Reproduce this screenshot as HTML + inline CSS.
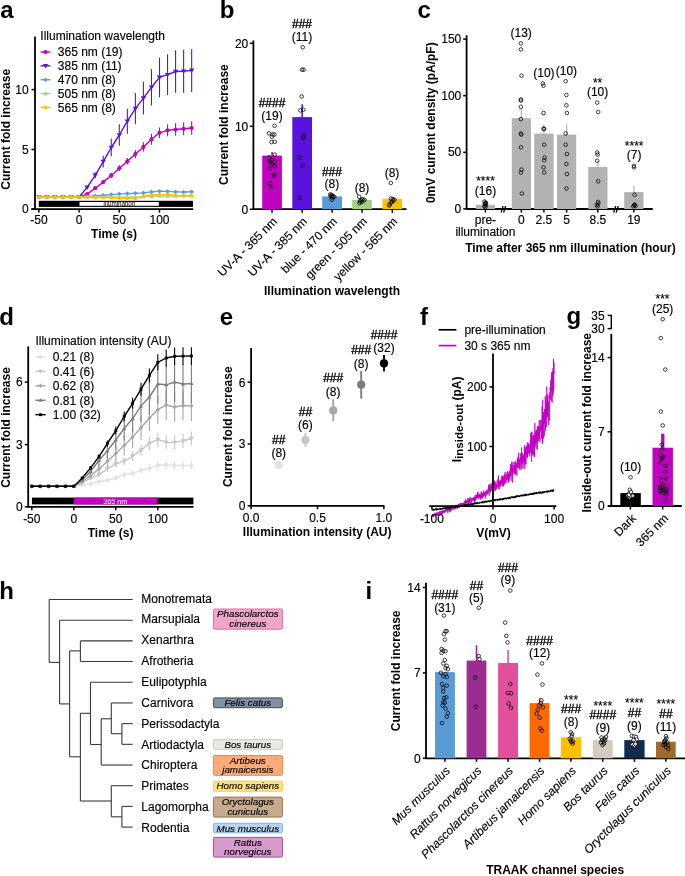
<!DOCTYPE html>
<html><head><meta charset="utf-8"><style>
html,body{margin:0;padding:0;background:#fff;}
svg{display:block;will-change:transform;font-family:"Liberation Sans", sans-serif;}
</style></head><body>
<svg width="685" height="876" viewBox="0 0 685 876">
<rect width="685" height="876" fill="#fff"/>
<text x="0.20" y="17.60" font-size="24" font-weight="bold">a</text>
<rect x="38.80" y="200.80" width="154.20" height="6.10" fill="#000"/>
<rect x="79.50" y="202.00" width="79.30" height="3.80" fill="#fff"/>
<text x="119.30" y="205.80" font-size="6.3" text-anchor="middle">Illumination</text>
<line x1="87.14" y1="193.30" x2="87.14" y2="194.90" stroke="#C200C2" stroke-width="1.1"/>
<line x1="95.18" y1="187.00" x2="95.18" y2="189.40" stroke="#C200C2" stroke-width="1.1"/>
<line x1="103.22" y1="180.30" x2="103.22" y2="183.90" stroke="#C200C2" stroke-width="1.1"/>
<line x1="111.26" y1="172.90" x2="111.26" y2="177.90" stroke="#C200C2" stroke-width="1.1"/>
<line x1="119.30" y1="165.30" x2="119.30" y2="171.30" stroke="#C200C2" stroke-width="1.1"/>
<line x1="127.34" y1="158.10" x2="127.34" y2="164.50" stroke="#C200C2" stroke-width="1.1"/>
<line x1="135.38" y1="150.10" x2="135.38" y2="158.10" stroke="#C200C2" stroke-width="1.1"/>
<line x1="143.42" y1="142.30" x2="143.42" y2="151.50" stroke="#C200C2" stroke-width="1.1"/>
<line x1="151.46" y1="133.80" x2="151.46" y2="144.80" stroke="#C200C2" stroke-width="1.1"/>
<line x1="159.50" y1="127.50" x2="159.50" y2="138.10" stroke="#C200C2" stroke-width="1.1"/>
<line x1="167.54" y1="124.30" x2="167.54" y2="136.30" stroke="#C200C2" stroke-width="1.1"/>
<line x1="175.58" y1="123.20" x2="175.58" y2="135.80" stroke="#C200C2" stroke-width="1.1"/>
<line x1="183.62" y1="122.30" x2="183.62" y2="135.30" stroke="#C200C2" stroke-width="1.1"/>
<line x1="191.66" y1="121.30" x2="191.66" y2="134.70" stroke="#C200C2" stroke-width="1.1"/>
<polyline points="38.90,197.00 46.94,197.00 54.98,197.00 63.02,197.00 71.06,197.00 79.10,197.00 87.14,194.10 95.18,188.20 103.22,182.10 111.26,175.40 119.30,168.30 127.34,161.30 135.38,154.10 143.42,146.90 151.46,139.30 159.50,132.80 167.54,130.30 175.58,129.50 183.62,128.80 191.66,128.00" fill="none" stroke="#C200C2" stroke-width="1.4" stroke-linejoin="round"/>
<circle cx="38.90" cy="197.00" r="2.1" fill="#C200C2"/>
<circle cx="46.94" cy="197.00" r="2.1" fill="#C200C2"/>
<circle cx="54.98" cy="197.00" r="2.1" fill="#C200C2"/>
<circle cx="63.02" cy="197.00" r="2.1" fill="#C200C2"/>
<circle cx="71.06" cy="197.00" r="2.1" fill="#C200C2"/>
<circle cx="79.10" cy="197.00" r="2.1" fill="#C200C2"/>
<circle cx="87.14" cy="194.10" r="2.1" fill="#C200C2"/>
<circle cx="95.18" cy="188.20" r="2.1" fill="#C200C2"/>
<circle cx="103.22" cy="182.10" r="2.1" fill="#C200C2"/>
<circle cx="111.26" cy="175.40" r="2.1" fill="#C200C2"/>
<circle cx="119.30" cy="168.30" r="2.1" fill="#C200C2"/>
<circle cx="127.34" cy="161.30" r="2.1" fill="#C200C2"/>
<circle cx="135.38" cy="154.10" r="2.1" fill="#C200C2"/>
<circle cx="143.42" cy="146.90" r="2.1" fill="#C200C2"/>
<circle cx="151.46" cy="139.30" r="2.1" fill="#C200C2"/>
<circle cx="159.50" cy="132.80" r="2.1" fill="#C200C2"/>
<circle cx="167.54" cy="130.30" r="2.1" fill="#C200C2"/>
<circle cx="175.58" cy="129.50" r="2.1" fill="#C200C2"/>
<circle cx="183.62" cy="128.80" r="2.1" fill="#C200C2"/>
<circle cx="191.66" cy="128.00" r="2.1" fill="#C200C2"/>
<line x1="87.14" y1="185.90" x2="87.14" y2="188.90" stroke="#5A12DE" stroke-width="1.1"/>
<line x1="95.18" y1="172.30" x2="95.18" y2="178.30" stroke="#5A12DE" stroke-width="1.1"/>
<line x1="103.22" y1="155.80" x2="103.22" y2="167.40" stroke="#5A12DE" stroke-width="1.1"/>
<line x1="111.26" y1="138.80" x2="111.26" y2="156.20" stroke="#5A12DE" stroke-width="1.1"/>
<line x1="119.30" y1="124.30" x2="119.30" y2="145.70" stroke="#5A12DE" stroke-width="1.1"/>
<line x1="127.34" y1="108.70" x2="127.34" y2="133.70" stroke="#5A12DE" stroke-width="1.1"/>
<line x1="135.38" y1="92.90" x2="135.38" y2="124.30" stroke="#5A12DE" stroke-width="1.1"/>
<line x1="143.42" y1="81.70" x2="143.42" y2="114.50" stroke="#5A12DE" stroke-width="1.1"/>
<line x1="151.46" y1="69.10" x2="151.46" y2="105.50" stroke="#5A12DE" stroke-width="1.1"/>
<line x1="159.50" y1="57.50" x2="159.50" y2="97.30" stroke="#5A12DE" stroke-width="1.1"/>
<line x1="167.54" y1="54.30" x2="167.54" y2="95.10" stroke="#5A12DE" stroke-width="1.1"/>
<line x1="175.58" y1="50.20" x2="175.58" y2="92.80" stroke="#5A12DE" stroke-width="1.1"/>
<line x1="183.62" y1="49.80" x2="183.62" y2="92.80" stroke="#5A12DE" stroke-width="1.1"/>
<line x1="191.66" y1="48.90" x2="191.66" y2="91.90" stroke="#5A12DE" stroke-width="1.1"/>
<polyline points="38.90,197.00 46.94,197.00 54.98,197.00 63.02,197.00 71.06,197.00 79.10,197.00 87.14,187.40 95.18,175.30 103.22,161.60 111.26,147.50 119.30,135.00 127.34,121.20 135.38,108.60 143.42,98.10 151.46,87.30 159.50,77.40 167.54,74.70 175.58,71.50 183.62,71.30 191.66,70.40" fill="none" stroke="#5A12DE" stroke-width="1.4" stroke-linejoin="round"/>
<path d="M36.20,195.20 L41.60,195.20 L38.90,199.50Z" fill="#5A12DE"/>
<path d="M44.24,195.20 L49.64,195.20 L46.94,199.50Z" fill="#5A12DE"/>
<path d="M52.28,195.20 L57.68,195.20 L54.98,199.50Z" fill="#5A12DE"/>
<path d="M60.32,195.20 L65.72,195.20 L63.02,199.50Z" fill="#5A12DE"/>
<path d="M68.36,195.20 L73.76,195.20 L71.06,199.50Z" fill="#5A12DE"/>
<path d="M76.40,195.20 L81.80,195.20 L79.10,199.50Z" fill="#5A12DE"/>
<path d="M84.44,185.60 L89.84,185.60 L87.14,189.90Z" fill="#5A12DE"/>
<path d="M92.48,173.50 L97.88,173.50 L95.18,177.80Z" fill="#5A12DE"/>
<path d="M100.52,159.80 L105.92,159.80 L103.22,164.10Z" fill="#5A12DE"/>
<path d="M108.56,145.70 L113.96,145.70 L111.26,150.00Z" fill="#5A12DE"/>
<path d="M116.60,133.20 L122.00,133.20 L119.30,137.50Z" fill="#5A12DE"/>
<path d="M124.64,119.40 L130.04,119.40 L127.34,123.70Z" fill="#5A12DE"/>
<path d="M132.68,106.80 L138.08,106.80 L135.38,111.10Z" fill="#5A12DE"/>
<path d="M140.72,96.30 L146.12,96.30 L143.42,100.60Z" fill="#5A12DE"/>
<path d="M148.76,85.50 L154.16,85.50 L151.46,89.80Z" fill="#5A12DE"/>
<path d="M156.80,75.60 L162.20,75.60 L159.50,79.90Z" fill="#5A12DE"/>
<path d="M164.84,72.90 L170.24,72.90 L167.54,77.20Z" fill="#5A12DE"/>
<path d="M172.88,69.70 L178.28,69.70 L175.58,74.00Z" fill="#5A12DE"/>
<path d="M180.92,69.50 L186.32,69.50 L183.62,73.80Z" fill="#5A12DE"/>
<path d="M188.96,68.60 L194.36,68.60 L191.66,72.90Z" fill="#5A12DE"/>
<polyline points="38.90,197.00 46.94,197.00 54.98,197.00 63.02,197.00 71.06,197.00 79.10,197.00 87.14,196.50 95.18,195.90 103.22,195.20 111.26,194.60 119.30,193.90 127.34,193.60 135.38,193.30 143.42,192.90 151.46,191.90 159.50,191.20 167.54,191.40 175.58,191.90 183.62,192.00 191.66,191.80" fill="none" stroke="#5B9BD5" stroke-width="1.4" stroke-linejoin="round"/>
<path d="M36.60,197.00 L38.90,194.70 L41.20,197.00 L38.90,199.30Z" fill="#5B9BD5"/>
<path d="M44.64,197.00 L46.94,194.70 L49.24,197.00 L46.94,199.30Z" fill="#5B9BD5"/>
<path d="M52.68,197.00 L54.98,194.70 L57.28,197.00 L54.98,199.30Z" fill="#5B9BD5"/>
<path d="M60.72,197.00 L63.02,194.70 L65.32,197.00 L63.02,199.30Z" fill="#5B9BD5"/>
<path d="M68.76,197.00 L71.06,194.70 L73.36,197.00 L71.06,199.30Z" fill="#5B9BD5"/>
<path d="M76.80,197.00 L79.10,194.70 L81.40,197.00 L79.10,199.30Z" fill="#5B9BD5"/>
<path d="M84.84,196.50 L87.14,194.20 L89.44,196.50 L87.14,198.80Z" fill="#5B9BD5"/>
<path d="M92.88,195.90 L95.18,193.60 L97.48,195.90 L95.18,198.20Z" fill="#5B9BD5"/>
<path d="M100.92,195.20 L103.22,192.90 L105.52,195.20 L103.22,197.50Z" fill="#5B9BD5"/>
<path d="M108.96,194.60 L111.26,192.30 L113.56,194.60 L111.26,196.90Z" fill="#5B9BD5"/>
<path d="M117.00,193.90 L119.30,191.60 L121.60,193.90 L119.30,196.20Z" fill="#5B9BD5"/>
<path d="M125.04,193.60 L127.34,191.30 L129.64,193.60 L127.34,195.90Z" fill="#5B9BD5"/>
<path d="M133.08,193.30 L135.38,191.00 L137.68,193.30 L135.38,195.60Z" fill="#5B9BD5"/>
<path d="M141.12,192.90 L143.42,190.60 L145.72,192.90 L143.42,195.20Z" fill="#5B9BD5"/>
<path d="M149.16,191.90 L151.46,189.60 L153.76,191.90 L151.46,194.20Z" fill="#5B9BD5"/>
<path d="M157.20,191.20 L159.50,188.90 L161.80,191.20 L159.50,193.50Z" fill="#5B9BD5"/>
<path d="M165.24,191.40 L167.54,189.10 L169.84,191.40 L167.54,193.70Z" fill="#5B9BD5"/>
<path d="M173.28,191.90 L175.58,189.60 L177.88,191.90 L175.58,194.20Z" fill="#5B9BD5"/>
<path d="M181.32,192.00 L183.62,189.70 L185.92,192.00 L183.62,194.30Z" fill="#5B9BD5"/>
<path d="M189.36,191.80 L191.66,189.50 L193.96,191.80 L191.66,194.10Z" fill="#5B9BD5"/>
<polyline points="38.90,197.00 46.94,197.00 54.98,197.00 63.02,197.00 71.06,197.00 79.10,197.00 87.14,197.00 95.18,197.00 103.22,197.00 111.26,197.00 119.30,197.10 127.34,197.20 135.38,197.20 143.42,196.60 151.46,196.30 159.50,196.00 167.54,196.10 175.58,196.10 183.62,196.00 191.66,196.00" fill="none" stroke="#A4CF86" stroke-width="1.4" stroke-linejoin="round"/>
<path d="M36.70,198.60 L41.10,198.60 L38.90,194.80Z" fill="#A4CF86"/>
<path d="M44.74,198.60 L49.14,198.60 L46.94,194.80Z" fill="#A4CF86"/>
<path d="M52.78,198.60 L57.18,198.60 L54.98,194.80Z" fill="#A4CF86"/>
<path d="M60.82,198.60 L65.22,198.60 L63.02,194.80Z" fill="#A4CF86"/>
<path d="M68.86,198.60 L73.26,198.60 L71.06,194.80Z" fill="#A4CF86"/>
<path d="M76.90,198.60 L81.30,198.60 L79.10,194.80Z" fill="#A4CF86"/>
<path d="M84.94,198.60 L89.34,198.60 L87.14,194.80Z" fill="#A4CF86"/>
<path d="M92.98,198.60 L97.38,198.60 L95.18,194.80Z" fill="#A4CF86"/>
<path d="M101.02,198.60 L105.42,198.60 L103.22,194.80Z" fill="#A4CF86"/>
<path d="M109.06,198.60 L113.46,198.60 L111.26,194.80Z" fill="#A4CF86"/>
<path d="M117.10,198.70 L121.50,198.70 L119.30,194.90Z" fill="#A4CF86"/>
<path d="M125.14,198.80 L129.54,198.80 L127.34,195.00Z" fill="#A4CF86"/>
<path d="M133.18,198.80 L137.58,198.80 L135.38,195.00Z" fill="#A4CF86"/>
<path d="M141.22,198.20 L145.62,198.20 L143.42,194.40Z" fill="#A4CF86"/>
<path d="M149.26,197.90 L153.66,197.90 L151.46,194.10Z" fill="#A4CF86"/>
<path d="M157.30,197.60 L161.70,197.60 L159.50,193.80Z" fill="#A4CF86"/>
<path d="M165.34,197.70 L169.74,197.70 L167.54,193.90Z" fill="#A4CF86"/>
<path d="M173.38,197.70 L177.78,197.70 L175.58,193.90Z" fill="#A4CF86"/>
<path d="M181.42,197.60 L185.82,197.60 L183.62,193.80Z" fill="#A4CF86"/>
<path d="M189.46,197.60 L193.86,197.60 L191.66,193.80Z" fill="#A4CF86"/>
<polyline points="38.90,197.00 46.94,197.00 54.98,197.00 63.02,197.00 71.06,197.00 79.10,197.00 87.14,197.30 95.18,197.60 103.22,197.60 111.26,197.80 119.30,198.20 127.34,198.40 135.38,198.50 143.42,196.00 151.46,194.80 159.50,194.70 167.54,194.50 175.58,195.30 183.62,195.40 191.66,195.40" fill="none" stroke="#FFC000" stroke-width="1.4" stroke-linejoin="round"/>
<rect x="37.40" y="195.50" width="3.00" height="3.00" fill="#FFC000"/>
<rect x="45.44" y="195.50" width="3.00" height="3.00" fill="#FFC000"/>
<rect x="53.48" y="195.50" width="3.00" height="3.00" fill="#FFC000"/>
<rect x="61.52" y="195.50" width="3.00" height="3.00" fill="#FFC000"/>
<rect x="69.56" y="195.50" width="3.00" height="3.00" fill="#FFC000"/>
<rect x="77.60" y="195.50" width="3.00" height="3.00" fill="#FFC000"/>
<rect x="85.64" y="195.80" width="3.00" height="3.00" fill="#FFC000"/>
<rect x="93.68" y="196.10" width="3.00" height="3.00" fill="#FFC000"/>
<rect x="101.72" y="196.10" width="3.00" height="3.00" fill="#FFC000"/>
<rect x="109.76" y="196.30" width="3.00" height="3.00" fill="#FFC000"/>
<rect x="117.80" y="196.70" width="3.00" height="3.00" fill="#FFC000"/>
<rect x="125.84" y="196.90" width="3.00" height="3.00" fill="#FFC000"/>
<rect x="133.88" y="197.00" width="3.00" height="3.00" fill="#FFC000"/>
<rect x="141.92" y="194.50" width="3.00" height="3.00" fill="#FFC000"/>
<rect x="149.96" y="193.30" width="3.00" height="3.00" fill="#FFC000"/>
<rect x="158.00" y="193.20" width="3.00" height="3.00" fill="#FFC000"/>
<rect x="166.04" y="193.00" width="3.00" height="3.00" fill="#FFC000"/>
<rect x="174.08" y="193.80" width="3.00" height="3.00" fill="#FFC000"/>
<rect x="182.12" y="193.90" width="3.00" height="3.00" fill="#FFC000"/>
<rect x="190.16" y="193.90" width="3.00" height="3.00" fill="#FFC000"/>
<line x1="35.00" y1="36.50" x2="35.00" y2="209.80" stroke="#000" stroke-width="1.8"/>
<line x1="31.30" y1="209.10" x2="193.20" y2="209.10" stroke="#000" stroke-width="1.8"/>
<line x1="31.50" y1="209.10" x2="35.00" y2="209.10" stroke="#000" stroke-width="1.5"/>
<text x="28.60" y="213.40" font-size="12" text-anchor="end" stroke="#000" stroke-width="0.15">0</text>
<line x1="31.50" y1="149.50" x2="35.00" y2="149.50" stroke="#000" stroke-width="1.5"/>
<text x="28.60" y="153.80" font-size="12" text-anchor="end" stroke="#000" stroke-width="0.15">5</text>
<line x1="31.50" y1="89.60" x2="35.00" y2="89.60" stroke="#000" stroke-width="1.5"/>
<text x="28.60" y="93.90" font-size="12" text-anchor="end" stroke="#000" stroke-width="0.15">10</text>
<line x1="38.90" y1="209.10" x2="38.90" y2="212.60" stroke="#000" stroke-width="1.5"/>
<text x="38.90" y="224.00" font-size="12" text-anchor="middle" stroke="#000" stroke-width="0.15">-50</text>
<line x1="79.10" y1="209.10" x2="79.10" y2="212.60" stroke="#000" stroke-width="1.5"/>
<text x="79.10" y="224.00" font-size="12" text-anchor="middle" stroke="#000" stroke-width="0.15">0</text>
<line x1="119.30" y1="209.10" x2="119.30" y2="212.60" stroke="#000" stroke-width="1.5"/>
<text x="119.30" y="224.00" font-size="12" text-anchor="middle" stroke="#000" stroke-width="0.15">50</text>
<line x1="159.50" y1="209.10" x2="159.50" y2="212.60" stroke="#000" stroke-width="1.5"/>
<text x="159.50" y="224.00" font-size="12" text-anchor="middle" stroke="#000" stroke-width="0.15">100</text>
<text x="114.00" y="238.00" font-size="12" text-anchor="middle" font-weight="bold">Time (s)</text>
<text x="10.00" y="129.30" font-size="12" text-anchor="middle" font-weight="bold" transform="rotate(-90 10.00 129.30)">Current fold increase</text>
<text x="40.30" y="39.80" font-size="12" stroke="#000" stroke-width="0.15">Illumination wavelength</text>
<line x1="40.60" y1="52.00" x2="50.40" y2="52.00" stroke="#C200C2" stroke-width="1.4"/>
<circle cx="45.50" cy="52.00" r="2.1" fill="#C200C2"/>
<text x="57.80" y="56.30" font-size="12" stroke="#000" stroke-width="0.15">365 nm (19)</text>
<line x1="40.60" y1="65.85" x2="50.40" y2="65.85" stroke="#5A12DE" stroke-width="1.4"/>
<path d="M42.80,64.05 L48.20,64.05 L45.50,68.35Z" fill="#5A12DE"/>
<text x="57.80" y="70.15" font-size="12" stroke="#000" stroke-width="0.15">385 nm (11)</text>
<line x1="40.60" y1="79.70" x2="50.40" y2="79.70" stroke="#5B9BD5" stroke-width="1.4"/>
<path d="M43.20,79.70 L45.50,77.40 L47.80,79.70 L45.50,82.00Z" fill="#5B9BD5"/>
<text x="57.80" y="84.00" font-size="12" stroke="#000" stroke-width="0.15">470 nm (8)</text>
<line x1="40.60" y1="93.55" x2="50.40" y2="93.55" stroke="#A4CF86" stroke-width="1.4"/>
<path d="M43.30,95.15 L47.70,95.15 L45.50,91.35Z" fill="#A4CF86"/>
<text x="57.80" y="97.85" font-size="12" stroke="#000" stroke-width="0.15">505 nm (8)</text>
<line x1="40.60" y1="107.40" x2="50.40" y2="107.40" stroke="#FFC000" stroke-width="1.4"/>
<rect x="44.00" y="105.90" width="3.00" height="3.00" fill="#FFC000"/>
<text x="57.80" y="111.70" font-size="12" stroke="#000" stroke-width="0.15">565 nm (8)</text>
<text x="219.80" y="17.50" font-size="24" font-weight="bold">b</text>
<line x1="253.40" y1="40.50" x2="253.40" y2="209.90" stroke="#000" stroke-width="1.8"/>
<line x1="252.70" y1="209.20" x2="406.60" y2="209.20" stroke="#000" stroke-width="1.8"/>
<line x1="249.80" y1="209.30" x2="253.40" y2="209.30" stroke="#000" stroke-width="1.5"/>
<text x="248.30" y="213.60" font-size="12" text-anchor="end" stroke="#000" stroke-width="0.15">0</text>
<line x1="249.80" y1="126.30" x2="253.40" y2="126.30" stroke="#000" stroke-width="1.5"/>
<text x="248.30" y="130.60" font-size="12" text-anchor="end" stroke="#000" stroke-width="0.15">10</text>
<line x1="249.80" y1="43.30" x2="253.40" y2="43.30" stroke="#000" stroke-width="1.5"/>
<text x="248.30" y="47.60" font-size="12" text-anchor="end" stroke="#000" stroke-width="0.15">20</text>
<line x1="272.05" y1="152.00" x2="272.05" y2="156.60" stroke="#C200C2" stroke-width="1.6"/>
<rect x="262.20" y="155.60" width="19.70" height="53.60" fill="#C200C2"/>
<line x1="302.15" y1="104.20" x2="302.15" y2="118.10" stroke="#5A12DE" stroke-width="1.6"/>
<rect x="292.30" y="117.10" width="19.70" height="92.10" fill="#5A12DE"/>
<rect x="322.20" y="196.40" width="19.80" height="12.80" fill="#5B9BD5"/>
<rect x="352.20" y="199.90" width="19.70" height="9.30" fill="#A4CF86"/>
<rect x="382.50" y="198.80" width="19.60" height="10.40" fill="#FFC000"/>
<circle cx="274.50" cy="125.80" r="1.8" fill="none" stroke="#000" stroke-width="0.75"/>
<circle cx="269.00" cy="133.40" r="1.8" fill="none" stroke="#000" stroke-width="0.75"/>
<circle cx="272.60" cy="134.50" r="1.8" fill="none" stroke="#000" stroke-width="0.75"/>
<circle cx="274.50" cy="134.50" r="1.8" fill="none" stroke="#000" stroke-width="0.75"/>
<circle cx="271.90" cy="136.70" r="1.8" fill="none" stroke="#000" stroke-width="0.75"/>
<circle cx="271.50" cy="142.10" r="1.8" fill="none" stroke="#000" stroke-width="0.75"/>
<circle cx="274.80" cy="141.80" r="1.8" fill="none" stroke="#000" stroke-width="0.75"/>
<circle cx="274.80" cy="154.70" r="1.8" fill="none" stroke="#000" stroke-width="0.75"/>
<circle cx="269.00" cy="157.40" r="1.8" fill="none" stroke="#000" stroke-width="0.75"/>
<circle cx="271.90" cy="160.00" r="1.8" fill="none" stroke="#000" stroke-width="0.75"/>
<circle cx="274.80" cy="162.00" r="1.8" fill="none" stroke="#000" stroke-width="0.75"/>
<circle cx="269.70" cy="161.80" r="1.8" fill="none" stroke="#000" stroke-width="0.75"/>
<circle cx="271.60" cy="163.30" r="1.8" fill="none" stroke="#000" stroke-width="0.75"/>
<circle cx="274.50" cy="166.20" r="1.8" fill="none" stroke="#000" stroke-width="0.75"/>
<circle cx="269.70" cy="168.50" r="1.8" fill="none" stroke="#000" stroke-width="0.75"/>
<circle cx="274.50" cy="174.70" r="1.8" fill="none" stroke="#000" stroke-width="0.75"/>
<circle cx="273.40" cy="175.80" r="1.8" fill="none" stroke="#000" stroke-width="0.75"/>
<circle cx="270.10" cy="183.40" r="1.8" fill="none" stroke="#000" stroke-width="0.75"/>
<circle cx="271.90" cy="187.80" r="1.8" fill="none" stroke="#000" stroke-width="0.75"/>
<circle cx="302.70" cy="47.30" r="1.8" fill="none" stroke="#000" stroke-width="0.75"/>
<circle cx="302.00" cy="69.70" r="1.8" fill="none" stroke="#000" stroke-width="0.75"/>
<circle cx="303.60" cy="69.70" r="1.8" fill="none" stroke="#000" stroke-width="0.75"/>
<circle cx="301.70" cy="96.50" r="1.8" fill="none" stroke="#000" stroke-width="0.75"/>
<circle cx="300.40" cy="110.40" r="1.8" fill="none" stroke="#000" stroke-width="0.75"/>
<circle cx="303.30" cy="109.70" r="1.8" fill="none" stroke="#000" stroke-width="0.75"/>
<circle cx="303.30" cy="135.00" r="1.8" fill="none" stroke="#000" stroke-width="0.75"/>
<circle cx="303.30" cy="137.90" r="1.8" fill="none" stroke="#000" stroke-width="0.75"/>
<circle cx="299.20" cy="157.20" r="1.8" fill="none" stroke="#000" stroke-width="0.75"/>
<circle cx="302.60" cy="165.60" r="1.8" fill="none" stroke="#000" stroke-width="0.75"/>
<circle cx="299.60" cy="197.70" r="1.8" fill="none" stroke="#000" stroke-width="0.75"/>
<circle cx="330.20" cy="194.40" r="1.8" fill="none" stroke="#000" stroke-width="0.75"/>
<circle cx="331.90" cy="195.00" r="1.8" fill="none" stroke="#000" stroke-width="0.75"/>
<circle cx="333.10" cy="196.20" r="1.8" fill="none" stroke="#000" stroke-width="0.75"/>
<circle cx="334.30" cy="196.80" r="1.8" fill="none" stroke="#000" stroke-width="0.75"/>
<circle cx="330.80" cy="196.80" r="1.8" fill="none" stroke="#000" stroke-width="0.75"/>
<circle cx="331.90" cy="199.70" r="1.8" fill="none" stroke="#000" stroke-width="0.75"/>
<circle cx="331.00" cy="195.50" r="1.8" fill="none" stroke="#000" stroke-width="0.75"/>
<circle cx="332.50" cy="197.50" r="1.8" fill="none" stroke="#000" stroke-width="0.75"/>
<circle cx="359.10" cy="196.80" r="1.8" fill="none" stroke="#000" stroke-width="0.75"/>
<circle cx="362.30" cy="199.10" r="1.8" fill="none" stroke="#000" stroke-width="0.75"/>
<circle cx="364.60" cy="199.70" r="1.8" fill="none" stroke="#000" stroke-width="0.75"/>
<circle cx="360.00" cy="201.40" r="1.8" fill="none" stroke="#000" stroke-width="0.75"/>
<circle cx="361.70" cy="202.00" r="1.8" fill="none" stroke="#000" stroke-width="0.75"/>
<circle cx="359.40" cy="203.20" r="1.8" fill="none" stroke="#000" stroke-width="0.75"/>
<circle cx="363.50" cy="200.50" r="1.8" fill="none" stroke="#000" stroke-width="0.75"/>
<circle cx="360.80" cy="200.20" r="1.8" fill="none" stroke="#000" stroke-width="0.75"/>
<circle cx="390.80" cy="182.90" r="1.8" fill="none" stroke="#000" stroke-width="0.75"/>
<circle cx="390.90" cy="198.50" r="1.8" fill="none" stroke="#000" stroke-width="0.75"/>
<circle cx="392.70" cy="199.10" r="1.8" fill="none" stroke="#000" stroke-width="0.75"/>
<circle cx="394.40" cy="199.70" r="1.8" fill="none" stroke="#000" stroke-width="0.75"/>
<circle cx="393.50" cy="200.80" r="1.8" fill="none" stroke="#000" stroke-width="0.75"/>
<circle cx="392.10" cy="201.80" r="1.8" fill="none" stroke="#000" stroke-width="0.75"/>
<circle cx="390.90" cy="202.60" r="1.8" fill="none" stroke="#000" stroke-width="0.75"/>
<circle cx="389.70" cy="204.40" r="1.8" fill="none" stroke="#000" stroke-width="0.75"/>
<circle cx="389.20" cy="205.50" r="1.8" fill="none" stroke="#000" stroke-width="0.75"/>
<text x="272.00" y="107.20" font-size="12" text-anchor="middle" stroke="#000" stroke-width="0.35">####</text>
<text x="272.00" y="119.80" font-size="12" text-anchor="middle" stroke="#000" stroke-width="0.15">(19)</text>
<text x="302.00" y="28.30" font-size="12" text-anchor="middle" stroke="#000" stroke-width="0.35">###</text>
<text x="302.00" y="41.10" font-size="12" text-anchor="middle" stroke="#000" stroke-width="0.15">(11)</text>
<text x="331.90" y="175.60" font-size="12" text-anchor="middle" stroke="#000" stroke-width="0.35">###</text>
<text x="331.90" y="188.40" font-size="12" text-anchor="middle" stroke="#000" stroke-width="0.15">(8)</text>
<text x="362.00" y="191.60" font-size="12" text-anchor="middle" stroke="#000" stroke-width="0.15">(8)</text>
<text x="392.00" y="177.30" font-size="12" text-anchor="middle" stroke="#000" stroke-width="0.15">(8)</text>
<line x1="272.05" y1="209.20" x2="272.05" y2="212.80" stroke="#000" stroke-width="1.5"/>
<text x="277.75" y="222.10" font-size="12" text-anchor="end" transform="rotate(-45 277.75 222.10)" stroke="#000" stroke-width="0.15">UV-A - 365 nm</text>
<line x1="302.15" y1="209.20" x2="302.15" y2="212.80" stroke="#000" stroke-width="1.5"/>
<text x="307.85" y="222.10" font-size="12" text-anchor="end" transform="rotate(-45 307.85 222.10)" stroke="#000" stroke-width="0.15">UV-A - 385 nm</text>
<line x1="332.10" y1="209.20" x2="332.10" y2="212.80" stroke="#000" stroke-width="1.5"/>
<text x="337.80" y="222.10" font-size="12" text-anchor="end" transform="rotate(-45 337.80 222.10)" stroke="#000" stroke-width="0.15">blue - 470 nm</text>
<line x1="362.05" y1="209.20" x2="362.05" y2="212.80" stroke="#000" stroke-width="1.5"/>
<text x="367.75" y="222.10" font-size="12" text-anchor="end" transform="rotate(-45 367.75 222.10)" stroke="#000" stroke-width="0.15">green - 505 nm</text>
<line x1="392.30" y1="209.20" x2="392.30" y2="212.80" stroke="#000" stroke-width="1.5"/>
<text x="398.00" y="222.10" font-size="12" text-anchor="end" transform="rotate(-45 398.00 222.10)" stroke="#000" stroke-width="0.15">yellow - 565 nm</text>
<text x="332.00" y="295.40" font-size="12" text-anchor="middle" font-weight="bold">Illumination wavelength</text>
<text x="228.50" y="124.60" font-size="12" text-anchor="middle" font-weight="bold" transform="rotate(-90 228.50 124.60)">Current fold increase</text>
<text x="417.40" y="17.80" font-size="24" font-weight="bold">c</text>
<line x1="466.60" y1="35.30" x2="466.60" y2="209.60" stroke="#000" stroke-width="1.8"/>
<line x1="466.00" y1="209.00" x2="652.80" y2="209.00" stroke="#000" stroke-width="1.8"/>
<line x1="463.20" y1="208.90" x2="466.60" y2="208.90" stroke="#000" stroke-width="1.5"/>
<text x="461.30" y="212.80" font-size="12" text-anchor="end" stroke="#000" stroke-width="0.15">0</text>
<line x1="463.20" y1="152.30" x2="466.60" y2="152.30" stroke="#000" stroke-width="1.5"/>
<text x="461.30" y="156.20" font-size="12" text-anchor="end" stroke="#000" stroke-width="0.15">50</text>
<line x1="463.20" y1="95.70" x2="466.60" y2="95.70" stroke="#000" stroke-width="1.5"/>
<text x="461.30" y="99.60" font-size="12" text-anchor="end" stroke="#000" stroke-width="0.15">100</text>
<line x1="463.20" y1="39.10" x2="466.60" y2="39.10" stroke="#000" stroke-width="1.5"/>
<text x="461.30" y="43.00" font-size="12" text-anchor="end" stroke="#000" stroke-width="0.15">150</text>
<rect x="475.80" y="204.80" width="19.20" height="4.20" fill="#B2B2B2"/>
<line x1="485.40" y1="209.00" x2="485.40" y2="212.60" stroke="#000" stroke-width="1.5"/>
<text x="485.40" y="224.30" font-size="12" text-anchor="middle" stroke="#000" stroke-width="0.15">pre-</text>
<line x1="521.40" y1="109.00" x2="521.40" y2="119.20" stroke="#B2B2B2" stroke-width="1.2"/>
<rect x="511.80" y="118.20" width="19.20" height="90.80" fill="#B2B2B2"/>
<line x1="521.40" y1="209.00" x2="521.40" y2="212.60" stroke="#000" stroke-width="1.5"/>
<text x="521.40" y="224.30" font-size="12" text-anchor="middle" stroke="#000" stroke-width="0.15">0</text>
<line x1="543.90" y1="124.60" x2="543.90" y2="134.60" stroke="#B2B2B2" stroke-width="1.2"/>
<rect x="534.20" y="133.60" width="19.40" height="75.40" fill="#B2B2B2"/>
<line x1="543.90" y1="209.00" x2="543.90" y2="212.60" stroke="#000" stroke-width="1.5"/>
<text x="543.90" y="224.30" font-size="12" text-anchor="middle" stroke="#000" stroke-width="0.15">2.5</text>
<line x1="566.60" y1="124.20" x2="566.60" y2="135.60" stroke="#B2B2B2" stroke-width="1.2"/>
<rect x="557.00" y="134.60" width="19.20" height="74.40" fill="#B2B2B2"/>
<line x1="566.60" y1="209.00" x2="566.60" y2="212.60" stroke="#000" stroke-width="1.5"/>
<text x="566.60" y="224.30" font-size="12" text-anchor="middle" stroke="#000" stroke-width="0.15">5</text>
<line x1="597.85" y1="160.70" x2="597.85" y2="167.90" stroke="#B2B2B2" stroke-width="1.2"/>
<rect x="588.20" y="166.90" width="19.30" height="42.10" fill="#B2B2B2"/>
<line x1="597.85" y1="209.00" x2="597.85" y2="212.60" stroke="#000" stroke-width="1.5"/>
<text x="597.85" y="224.30" font-size="12" text-anchor="middle" stroke="#000" stroke-width="0.15">8.5</text>
<line x1="633.85" y1="185.80" x2="633.85" y2="193.10" stroke="#B2B2B2" stroke-width="1.2"/>
<rect x="624.20" y="192.10" width="19.30" height="16.90" fill="#B2B2B2"/>
<line x1="633.85" y1="209.00" x2="633.85" y2="212.60" stroke="#000" stroke-width="1.5"/>
<text x="633.85" y="224.30" font-size="12" text-anchor="middle" stroke="#000" stroke-width="0.15">19</text>
<text x="485.40" y="236.40" font-size="12" text-anchor="middle" stroke="#000" stroke-width="0.15">illumination</text>
<circle cx="484.50" cy="201.50" r="1.8" fill="none" stroke="#000" stroke-width="0.75"/>
<circle cx="485.50" cy="202.50" r="1.8" fill="none" stroke="#000" stroke-width="0.75"/>
<circle cx="484.80" cy="203.80" r="1.8" fill="none" stroke="#000" stroke-width="0.75"/>
<circle cx="485.80" cy="204.50" r="1.8" fill="none" stroke="#000" stroke-width="0.75"/>
<circle cx="485.00" cy="205.50" r="1.8" fill="none" stroke="#000" stroke-width="0.75"/>
<circle cx="484.50" cy="206.50" r="1.8" fill="none" stroke="#000" stroke-width="0.75"/>
<circle cx="485.50" cy="207.20" r="1.8" fill="none" stroke="#000" stroke-width="0.75"/>
<circle cx="486.00" cy="203.20" r="1.8" fill="none" stroke="#000" stroke-width="0.75"/>
<circle cx="520.90" cy="43.40" r="1.8" fill="none" stroke="#000" stroke-width="0.75"/>
<circle cx="520.90" cy="49.40" r="1.8" fill="none" stroke="#000" stroke-width="0.75"/>
<circle cx="521.50" cy="75.70" r="1.8" fill="none" stroke="#000" stroke-width="0.75"/>
<circle cx="520.90" cy="99.50" r="1.8" fill="none" stroke="#000" stroke-width="0.75"/>
<circle cx="520.90" cy="100.60" r="1.8" fill="none" stroke="#000" stroke-width="0.75"/>
<circle cx="520.90" cy="106.80" r="1.8" fill="none" stroke="#000" stroke-width="0.75"/>
<circle cx="520.90" cy="119.10" r="1.8" fill="none" stroke="#000" stroke-width="0.75"/>
<circle cx="520.90" cy="133.50" r="1.8" fill="none" stroke="#000" stroke-width="0.75"/>
<circle cx="521.30" cy="134.60" r="1.8" fill="none" stroke="#000" stroke-width="0.75"/>
<circle cx="520.90" cy="147.30" r="1.8" fill="none" stroke="#000" stroke-width="0.75"/>
<circle cx="521.50" cy="169.60" r="1.8" fill="none" stroke="#000" stroke-width="0.75"/>
<circle cx="520.90" cy="172.50" r="1.8" fill="none" stroke="#000" stroke-width="0.75"/>
<circle cx="521.90" cy="193.60" r="1.8" fill="none" stroke="#000" stroke-width="0.75"/>
<circle cx="542.80" cy="83.40" r="1.8" fill="none" stroke="#000" stroke-width="0.75"/>
<circle cx="543.50" cy="85.70" r="1.8" fill="none" stroke="#000" stroke-width="0.75"/>
<circle cx="543.50" cy="113.00" r="1.8" fill="none" stroke="#000" stroke-width="0.75"/>
<circle cx="543.50" cy="128.60" r="1.8" fill="none" stroke="#000" stroke-width="0.75"/>
<circle cx="544.20" cy="129.10" r="1.8" fill="none" stroke="#000" stroke-width="0.75"/>
<circle cx="544.20" cy="144.70" r="1.8" fill="none" stroke="#000" stroke-width="0.75"/>
<circle cx="544.60" cy="157.60" r="1.8" fill="none" stroke="#000" stroke-width="0.75"/>
<circle cx="544.20" cy="160.30" r="1.8" fill="none" stroke="#000" stroke-width="0.75"/>
<circle cx="543.50" cy="167.40" r="1.8" fill="none" stroke="#000" stroke-width="0.75"/>
<circle cx="544.20" cy="172.50" r="1.8" fill="none" stroke="#000" stroke-width="0.75"/>
<circle cx="565.70" cy="81.20" r="1.8" fill="none" stroke="#000" stroke-width="0.75"/>
<circle cx="566.40" cy="95.00" r="1.8" fill="none" stroke="#000" stroke-width="0.75"/>
<circle cx="566.40" cy="105.30" r="1.8" fill="none" stroke="#000" stroke-width="0.75"/>
<circle cx="566.90" cy="113.00" r="1.8" fill="none" stroke="#000" stroke-width="0.75"/>
<circle cx="565.70" cy="133.50" r="1.8" fill="none" stroke="#000" stroke-width="0.75"/>
<circle cx="565.70" cy="144.70" r="1.8" fill="none" stroke="#000" stroke-width="0.75"/>
<circle cx="566.90" cy="154.00" r="1.8" fill="none" stroke="#000" stroke-width="0.75"/>
<circle cx="566.40" cy="164.00" r="1.8" fill="none" stroke="#000" stroke-width="0.75"/>
<circle cx="566.90" cy="174.00" r="1.8" fill="none" stroke="#000" stroke-width="0.75"/>
<circle cx="566.40" cy="188.50" r="1.8" fill="none" stroke="#000" stroke-width="0.75"/>
<circle cx="597.20" cy="102.60" r="1.8" fill="none" stroke="#000" stroke-width="0.75"/>
<circle cx="598.20" cy="112.00" r="1.8" fill="none" stroke="#000" stroke-width="0.75"/>
<circle cx="597.20" cy="152.50" r="1.8" fill="none" stroke="#000" stroke-width="0.75"/>
<circle cx="597.60" cy="154.60" r="1.8" fill="none" stroke="#000" stroke-width="0.75"/>
<circle cx="597.20" cy="160.70" r="1.8" fill="none" stroke="#000" stroke-width="0.75"/>
<circle cx="598.20" cy="181.30" r="1.8" fill="none" stroke="#000" stroke-width="0.75"/>
<circle cx="598.20" cy="201.90" r="1.8" fill="none" stroke="#000" stroke-width="0.75"/>
<circle cx="598.20" cy="203.50" r="1.8" fill="none" stroke="#000" stroke-width="0.75"/>
<circle cx="597.60" cy="206.40" r="1.8" fill="none" stroke="#000" stroke-width="0.75"/>
<circle cx="596.80" cy="205.00" r="1.8" fill="none" stroke="#000" stroke-width="0.75"/>
<circle cx="634.00" cy="165.90" r="1.8" fill="none" stroke="#000" stroke-width="0.75"/>
<circle cx="634.00" cy="167.30" r="1.8" fill="none" stroke="#000" stroke-width="0.75"/>
<circle cx="634.60" cy="194.70" r="1.8" fill="none" stroke="#000" stroke-width="0.75"/>
<circle cx="634.60" cy="204.50" r="1.8" fill="none" stroke="#000" stroke-width="0.75"/>
<circle cx="633.20" cy="206.40" r="1.8" fill="none" stroke="#000" stroke-width="0.75"/>
<circle cx="635.50" cy="206.00" r="1.8" fill="none" stroke="#000" stroke-width="0.75"/>
<circle cx="634.20" cy="205.20" r="1.8" fill="none" stroke="#000" stroke-width="0.75"/>
<text x="485.50" y="185.40" font-size="12" text-anchor="middle" stroke="#000" stroke-width="0.12">****</text>
<text x="485.50" y="194.90" font-size="12" text-anchor="middle" stroke="#000" stroke-width="0.15">(16)</text>
<text x="521.20" y="36.70" font-size="12" text-anchor="middle" stroke="#000" stroke-width="0.15">(13)</text>
<text x="543.90" y="77.40" font-size="12" text-anchor="middle" stroke="#000" stroke-width="0.15">(10)</text>
<text x="566.40" y="74.90" font-size="12" text-anchor="middle" stroke="#000" stroke-width="0.15">(10)</text>
<text x="597.60" y="86.60" font-size="12" text-anchor="middle" stroke="#000" stroke-width="0.12">**</text>
<text x="597.60" y="95.80" font-size="12" text-anchor="middle" stroke="#000" stroke-width="0.15">(10)</text>
<text x="634.20" y="149.60" font-size="12" text-anchor="middle" stroke="#000" stroke-width="0.12">****</text>
<text x="634.20" y="158.90" font-size="12" text-anchor="middle" stroke="#000" stroke-width="0.15">(7)</text>
<line x1="501.10" y1="212.60" x2="503.10" y2="206.00" stroke="#000" stroke-width="1.3"/>
<line x1="503.60" y1="212.60" x2="505.60" y2="206.00" stroke="#000" stroke-width="1.3"/>
<line x1="613.70" y1="212.60" x2="615.70" y2="206.00" stroke="#000" stroke-width="1.3"/>
<line x1="616.20" y1="212.60" x2="618.20" y2="206.00" stroke="#000" stroke-width="1.3"/>
<text x="570.40" y="251.60" font-size="12" text-anchor="middle" font-weight="bold">Time after 365 nm illumination (hour)</text>
<text x="435.20" y="122.70" font-size="12" text-anchor="middle" font-weight="bold" transform="rotate(-90 435.20 122.70)">0mV current density (pA/pF)</text>
<text x="-0.80" y="324.80" font-size="24" font-weight="bold">d</text>
<line x1="82.20" y1="483.80" x2="82.20" y2="485.80" stroke="#E2E2E2" stroke-width="1.1"/>
<line x1="90.60" y1="482.40" x2="90.60" y2="485.40" stroke="#E2E2E2" stroke-width="1.1"/>
<line x1="99.00" y1="479.70" x2="99.00" y2="483.70" stroke="#E2E2E2" stroke-width="1.1"/>
<line x1="107.40" y1="478.20" x2="107.40" y2="482.20" stroke="#E2E2E2" stroke-width="1.1"/>
<line x1="115.80" y1="475.50" x2="115.80" y2="480.50" stroke="#E2E2E2" stroke-width="1.1"/>
<line x1="124.20" y1="471.70" x2="124.20" y2="477.70" stroke="#E2E2E2" stroke-width="1.1"/>
<line x1="132.60" y1="470.30" x2="132.60" y2="476.30" stroke="#E2E2E2" stroke-width="1.1"/>
<line x1="141.00" y1="466.70" x2="141.00" y2="473.70" stroke="#E2E2E2" stroke-width="1.1"/>
<line x1="149.40" y1="464.40" x2="149.40" y2="472.40" stroke="#E2E2E2" stroke-width="1.1"/>
<line x1="157.80" y1="460.80" x2="157.80" y2="469.80" stroke="#E2E2E2" stroke-width="1.1"/>
<line x1="166.20" y1="460.20" x2="166.20" y2="469.20" stroke="#E2E2E2" stroke-width="1.1"/>
<line x1="174.60" y1="461.10" x2="174.60" y2="470.10" stroke="#E2E2E2" stroke-width="1.1"/>
<line x1="183.00" y1="461.10" x2="183.00" y2="470.10" stroke="#E2E2E2" stroke-width="1.1"/>
<line x1="191.40" y1="461.10" x2="191.40" y2="470.10" stroke="#E2E2E2" stroke-width="1.1"/>
<line x1="82.20" y1="482.00" x2="82.20" y2="484.00" stroke="#C6C6C6" stroke-width="1.1"/>
<line x1="90.60" y1="476.20" x2="90.60" y2="480.20" stroke="#C6C6C6" stroke-width="1.1"/>
<line x1="99.00" y1="472.20" x2="99.00" y2="477.20" stroke="#C6C6C6" stroke-width="1.1"/>
<line x1="107.40" y1="465.90" x2="107.40" y2="471.90" stroke="#C6C6C6" stroke-width="1.1"/>
<line x1="115.80" y1="460.30" x2="115.80" y2="467.30" stroke="#C6C6C6" stroke-width="1.1"/>
<line x1="124.20" y1="457.30" x2="124.20" y2="465.30" stroke="#C6C6C6" stroke-width="1.1"/>
<line x1="132.60" y1="451.10" x2="132.60" y2="461.10" stroke="#C6C6C6" stroke-width="1.1"/>
<line x1="141.00" y1="444.60" x2="141.00" y2="455.60" stroke="#C6C6C6" stroke-width="1.1"/>
<line x1="149.40" y1="436.90" x2="149.40" y2="449.90" stroke="#C6C6C6" stroke-width="1.1"/>
<line x1="157.80" y1="432.50" x2="157.80" y2="446.50" stroke="#C6C6C6" stroke-width="1.1"/>
<line x1="166.20" y1="435.20" x2="166.20" y2="449.20" stroke="#C6C6C6" stroke-width="1.1"/>
<line x1="174.60" y1="435.40" x2="174.60" y2="449.40" stroke="#C6C6C6" stroke-width="1.1"/>
<line x1="183.00" y1="434.00" x2="183.00" y2="448.00" stroke="#C6C6C6" stroke-width="1.1"/>
<line x1="191.40" y1="431.50" x2="191.40" y2="445.50" stroke="#C6C6C6" stroke-width="1.1"/>
<line x1="82.20" y1="480.00" x2="82.20" y2="483.00" stroke="#A7A7A7" stroke-width="1.1"/>
<line x1="90.60" y1="472.70" x2="90.60" y2="478.70" stroke="#A7A7A7" stroke-width="1.1"/>
<line x1="99.00" y1="464.40" x2="99.00" y2="473.40" stroke="#A7A7A7" stroke-width="1.1"/>
<line x1="107.40" y1="455.30" x2="107.40" y2="467.30" stroke="#A7A7A7" stroke-width="1.1"/>
<line x1="115.80" y1="445.40" x2="115.80" y2="461.40" stroke="#A7A7A7" stroke-width="1.1"/>
<line x1="124.20" y1="435.40" x2="124.20" y2="455.40" stroke="#A7A7A7" stroke-width="1.1"/>
<line x1="132.60" y1="426.10" x2="132.60" y2="448.10" stroke="#A7A7A7" stroke-width="1.1"/>
<line x1="141.00" y1="415.80" x2="141.00" y2="439.80" stroke="#A7A7A7" stroke-width="1.1"/>
<line x1="149.40" y1="405.00" x2="149.40" y2="431.00" stroke="#A7A7A7" stroke-width="1.1"/>
<line x1="157.80" y1="395.70" x2="157.80" y2="423.70" stroke="#A7A7A7" stroke-width="1.1"/>
<line x1="166.20" y1="390.00" x2="166.20" y2="420.00" stroke="#A7A7A7" stroke-width="1.1"/>
<line x1="174.60" y1="392.00" x2="174.60" y2="422.00" stroke="#A7A7A7" stroke-width="1.1"/>
<line x1="183.00" y1="390.50" x2="183.00" y2="420.50" stroke="#A7A7A7" stroke-width="1.1"/>
<line x1="191.40" y1="390.90" x2="191.40" y2="420.90" stroke="#A7A7A7" stroke-width="1.1"/>
<line x1="82.20" y1="478.00" x2="82.20" y2="482.00" stroke="#7C7C7C" stroke-width="1.1"/>
<line x1="90.60" y1="467.50" x2="90.60" y2="475.50" stroke="#7C7C7C" stroke-width="1.1"/>
<line x1="99.00" y1="454.50" x2="99.00" y2="466.50" stroke="#7C7C7C" stroke-width="1.1"/>
<line x1="107.40" y1="442.80" x2="107.40" y2="458.80" stroke="#7C7C7C" stroke-width="1.1"/>
<line x1="115.80" y1="430.00" x2="115.80" y2="450.00" stroke="#7C7C7C" stroke-width="1.1"/>
<line x1="124.20" y1="416.40" x2="124.20" y2="440.40" stroke="#7C7C7C" stroke-width="1.1"/>
<line x1="132.60" y1="404.70" x2="132.60" y2="432.70" stroke="#7C7C7C" stroke-width="1.1"/>
<line x1="141.00" y1="390.10" x2="141.00" y2="422.10" stroke="#7C7C7C" stroke-width="1.1"/>
<line x1="149.40" y1="379.00" x2="149.40" y2="415.00" stroke="#7C7C7C" stroke-width="1.1"/>
<line x1="157.80" y1="364.00" x2="157.80" y2="404.00" stroke="#7C7C7C" stroke-width="1.1"/>
<line x1="166.20" y1="364.80" x2="166.20" y2="404.80" stroke="#7C7C7C" stroke-width="1.1"/>
<line x1="174.60" y1="362.10" x2="174.60" y2="402.10" stroke="#7C7C7C" stroke-width="1.1"/>
<line x1="183.00" y1="364.00" x2="183.00" y2="404.00" stroke="#7C7C7C" stroke-width="1.1"/>
<line x1="191.40" y1="363.60" x2="191.40" y2="403.60" stroke="#7C7C7C" stroke-width="1.1"/>
<line x1="82.20" y1="477.00" x2="82.20" y2="479.00" stroke="#000000" stroke-width="1.1"/>
<line x1="90.60" y1="466.40" x2="90.60" y2="469.40" stroke="#000000" stroke-width="1.1"/>
<line x1="99.00" y1="454.60" x2="99.00" y2="458.60" stroke="#000000" stroke-width="1.1"/>
<line x1="107.40" y1="440.50" x2="107.40" y2="446.50" stroke="#000000" stroke-width="1.1"/>
<line x1="115.80" y1="426.60" x2="115.80" y2="434.60" stroke="#000000" stroke-width="1.1"/>
<line x1="124.20" y1="411.50" x2="124.20" y2="421.50" stroke="#000000" stroke-width="1.1"/>
<line x1="132.60" y1="397.80" x2="132.60" y2="408.80" stroke="#000000" stroke-width="1.1"/>
<line x1="141.00" y1="382.70" x2="141.00" y2="395.70" stroke="#000000" stroke-width="1.1"/>
<line x1="149.40" y1="368.40" x2="149.40" y2="382.40" stroke="#000000" stroke-width="1.1"/>
<line x1="157.80" y1="354.30" x2="157.80" y2="370.30" stroke="#000000" stroke-width="1.1"/>
<line x1="166.20" y1="349.50" x2="166.20" y2="366.50" stroke="#000000" stroke-width="1.1"/>
<line x1="174.60" y1="347.50" x2="174.60" y2="365.10" stroke="#000000" stroke-width="1.1"/>
<line x1="183.00" y1="347.30" x2="183.00" y2="364.90" stroke="#000000" stroke-width="1.1"/>
<line x1="191.40" y1="347.20" x2="191.40" y2="364.80" stroke="#000000" stroke-width="1.1"/>
<polyline points="31.80,486.30 40.20,486.30 48.60,486.30 57.00,486.30 65.40,486.30 73.80,486.30 82.20,484.80 90.60,483.90 99.00,481.70 107.40,480.20 115.80,478.00 124.20,474.70 132.60,473.30 141.00,470.20 149.40,468.40 157.80,465.30 166.20,464.70 174.60,465.60 183.00,465.60 191.40,465.60" fill="none" stroke="#E2E2E2" stroke-width="1.4" stroke-linejoin="round"/>
<circle cx="31.80" cy="486.30" r="1.9949999999999999" fill="#E2E2E2"/>
<circle cx="40.20" cy="486.30" r="1.9949999999999999" fill="#E2E2E2"/>
<circle cx="48.60" cy="486.30" r="1.9949999999999999" fill="#E2E2E2"/>
<circle cx="57.00" cy="486.30" r="1.9949999999999999" fill="#E2E2E2"/>
<circle cx="65.40" cy="486.30" r="1.9949999999999999" fill="#E2E2E2"/>
<circle cx="73.80" cy="486.30" r="1.9949999999999999" fill="#E2E2E2"/>
<circle cx="82.20" cy="484.80" r="1.9949999999999999" fill="#E2E2E2"/>
<circle cx="90.60" cy="483.90" r="1.9949999999999999" fill="#E2E2E2"/>
<circle cx="99.00" cy="481.70" r="1.9949999999999999" fill="#E2E2E2"/>
<circle cx="107.40" cy="480.20" r="1.9949999999999999" fill="#E2E2E2"/>
<circle cx="115.80" cy="478.00" r="1.9949999999999999" fill="#E2E2E2"/>
<circle cx="124.20" cy="474.70" r="1.9949999999999999" fill="#E2E2E2"/>
<circle cx="132.60" cy="473.30" r="1.9949999999999999" fill="#E2E2E2"/>
<circle cx="141.00" cy="470.20" r="1.9949999999999999" fill="#E2E2E2"/>
<circle cx="149.40" cy="468.40" r="1.9949999999999999" fill="#E2E2E2"/>
<circle cx="157.80" cy="465.30" r="1.9949999999999999" fill="#E2E2E2"/>
<circle cx="166.20" cy="464.70" r="1.9949999999999999" fill="#E2E2E2"/>
<circle cx="174.60" cy="465.60" r="1.9949999999999999" fill="#E2E2E2"/>
<circle cx="183.00" cy="465.60" r="1.9949999999999999" fill="#E2E2E2"/>
<circle cx="191.40" cy="465.60" r="1.9949999999999999" fill="#E2E2E2"/>
<polyline points="31.80,486.30 40.20,486.30 48.60,486.30 57.00,486.30 65.40,486.30 73.80,486.30 82.20,483.00 90.60,478.20 99.00,474.70 107.40,468.90 115.80,463.80 124.20,461.30 132.60,456.10 141.00,450.10 149.40,443.40 157.80,439.50 166.20,442.20 174.60,442.40 183.00,441.00 191.40,438.50" fill="none" stroke="#C6C6C6" stroke-width="1.4" stroke-linejoin="round"/>
<path d="M29.23,484.59 L34.36,484.59 L31.80,488.68Z" fill="#C6C6C6"/>
<path d="M37.63,484.59 L42.76,484.59 L40.20,488.68Z" fill="#C6C6C6"/>
<path d="M46.03,484.59 L51.16,484.59 L48.60,488.68Z" fill="#C6C6C6"/>
<path d="M54.44,484.59 L59.56,484.59 L57.00,488.68Z" fill="#C6C6C6"/>
<path d="M62.83,484.59 L67.96,484.59 L65.40,488.68Z" fill="#C6C6C6"/>
<path d="M71.23,484.59 L76.36,484.59 L73.80,488.68Z" fill="#C6C6C6"/>
<path d="M79.64,481.29 L84.77,481.29 L82.20,485.38Z" fill="#C6C6C6"/>
<path d="M88.03,476.49 L93.16,476.49 L90.60,480.57Z" fill="#C6C6C6"/>
<path d="M96.44,472.99 L101.56,472.99 L99.00,477.07Z" fill="#C6C6C6"/>
<path d="M104.84,467.19 L109.97,467.19 L107.40,471.27Z" fill="#C6C6C6"/>
<path d="M113.23,462.09 L118.36,462.09 L115.80,466.18Z" fill="#C6C6C6"/>
<path d="M121.63,459.59 L126.76,459.59 L124.20,463.68Z" fill="#C6C6C6"/>
<path d="M130.03,454.39 L135.16,454.39 L132.60,458.48Z" fill="#C6C6C6"/>
<path d="M138.44,448.39 L143.56,448.39 L141.00,452.48Z" fill="#C6C6C6"/>
<path d="M146.83,441.69 L151.96,441.69 L149.40,445.77Z" fill="#C6C6C6"/>
<path d="M155.24,437.79 L160.37,437.79 L157.80,441.88Z" fill="#C6C6C6"/>
<path d="M163.63,440.49 L168.76,440.49 L166.20,444.57Z" fill="#C6C6C6"/>
<path d="M172.03,440.69 L177.16,440.69 L174.60,444.77Z" fill="#C6C6C6"/>
<path d="M180.44,439.29 L185.56,439.29 L183.00,443.38Z" fill="#C6C6C6"/>
<path d="M188.83,436.79 L193.96,436.79 L191.40,440.88Z" fill="#C6C6C6"/>
<polyline points="31.80,486.30 40.20,486.30 48.60,486.30 57.00,486.30 65.40,486.30 73.80,486.30 82.20,481.50 90.60,475.70 99.00,468.90 107.40,461.30 115.80,453.40 124.20,445.40 132.60,437.10 141.00,427.80 149.40,418.00 157.80,409.70 166.20,405.00 174.60,407.00 183.00,405.50 191.40,405.90" fill="none" stroke="#A7A7A7" stroke-width="1.4" stroke-linejoin="round"/>
<path d="M29.61,486.30 L31.80,484.12 L33.98,486.30 L31.80,488.49Z" fill="#A7A7A7"/>
<path d="M38.01,486.30 L40.20,484.12 L42.38,486.30 L40.20,488.49Z" fill="#A7A7A7"/>
<path d="M46.41,486.30 L48.60,484.12 L50.78,486.30 L48.60,488.49Z" fill="#A7A7A7"/>
<path d="M54.81,486.30 L57.00,484.12 L59.19,486.30 L57.00,488.49Z" fill="#A7A7A7"/>
<path d="M63.21,486.30 L65.40,484.12 L67.58,486.30 L65.40,488.49Z" fill="#A7A7A7"/>
<path d="M71.61,486.30 L73.80,484.12 L75.98,486.30 L73.80,488.49Z" fill="#A7A7A7"/>
<path d="M80.02,481.50 L82.20,479.31 L84.39,481.50 L82.20,483.69Z" fill="#A7A7A7"/>
<path d="M88.41,475.70 L90.60,473.51 L92.78,475.70 L90.60,477.88Z" fill="#A7A7A7"/>
<path d="M96.81,468.90 L99.00,466.71 L101.19,468.90 L99.00,471.08Z" fill="#A7A7A7"/>
<path d="M105.22,461.30 L107.40,459.12 L109.59,461.30 L107.40,463.49Z" fill="#A7A7A7"/>
<path d="M113.61,453.40 L115.80,451.21 L117.98,453.40 L115.80,455.58Z" fill="#A7A7A7"/>
<path d="M122.01,445.40 L124.20,443.21 L126.38,445.40 L124.20,447.58Z" fill="#A7A7A7"/>
<path d="M130.41,437.10 L132.60,434.92 L134.78,437.10 L132.60,439.29Z" fill="#A7A7A7"/>
<path d="M138.81,427.80 L141.00,425.62 L143.19,427.80 L141.00,429.99Z" fill="#A7A7A7"/>
<path d="M147.21,418.00 L149.40,415.81 L151.58,418.00 L149.40,420.19Z" fill="#A7A7A7"/>
<path d="M155.62,409.70 L157.80,407.51 L159.99,409.70 L157.80,411.88Z" fill="#A7A7A7"/>
<path d="M164.01,405.00 L166.20,402.81 L168.38,405.00 L166.20,407.19Z" fill="#A7A7A7"/>
<path d="M172.41,407.00 L174.60,404.81 L176.78,407.00 L174.60,409.19Z" fill="#A7A7A7"/>
<path d="M180.81,405.50 L183.00,403.31 L185.19,405.50 L183.00,407.69Z" fill="#A7A7A7"/>
<path d="M189.21,405.90 L191.40,403.71 L193.58,405.90 L191.40,408.08Z" fill="#A7A7A7"/>
<polyline points="31.80,486.30 40.20,486.30 48.60,486.30 57.00,486.30 65.40,486.30 73.80,486.30 82.20,480.00 90.60,471.50 99.00,460.50 107.40,450.80 115.80,440.00 124.20,428.40 132.60,418.70 141.00,406.10 149.40,397.00 157.80,384.00 166.20,384.80 174.60,382.10 183.00,384.00 191.40,383.60" fill="none" stroke="#7C7C7C" stroke-width="1.4" stroke-linejoin="round"/>
<path d="M29.71,487.82 L33.89,487.82 L31.80,484.21Z" fill="#7C7C7C"/>
<path d="M38.11,487.82 L42.29,487.82 L40.20,484.21Z" fill="#7C7C7C"/>
<path d="M46.51,487.82 L50.69,487.82 L48.60,484.21Z" fill="#7C7C7C"/>
<path d="M54.91,487.82 L59.09,487.82 L57.00,484.21Z" fill="#7C7C7C"/>
<path d="M63.31,487.82 L67.49,487.82 L65.40,484.21Z" fill="#7C7C7C"/>
<path d="M71.71,487.82 L75.89,487.82 L73.80,484.21Z" fill="#7C7C7C"/>
<path d="M80.11,481.52 L84.29,481.52 L82.20,477.91Z" fill="#7C7C7C"/>
<path d="M88.51,473.02 L92.69,473.02 L90.60,469.41Z" fill="#7C7C7C"/>
<path d="M96.91,462.02 L101.09,462.02 L99.00,458.41Z" fill="#7C7C7C"/>
<path d="M105.31,452.32 L109.49,452.32 L107.40,448.71Z" fill="#7C7C7C"/>
<path d="M113.71,441.52 L117.89,441.52 L115.80,437.91Z" fill="#7C7C7C"/>
<path d="M122.11,429.92 L126.29,429.92 L124.20,426.31Z" fill="#7C7C7C"/>
<path d="M130.51,420.22 L134.69,420.22 L132.60,416.61Z" fill="#7C7C7C"/>
<path d="M138.91,407.62 L143.09,407.62 L141.00,404.01Z" fill="#7C7C7C"/>
<path d="M147.31,398.52 L151.49,398.52 L149.40,394.91Z" fill="#7C7C7C"/>
<path d="M155.71,385.52 L159.89,385.52 L157.80,381.91Z" fill="#7C7C7C"/>
<path d="M164.11,386.32 L168.29,386.32 L166.20,382.71Z" fill="#7C7C7C"/>
<path d="M172.51,383.62 L176.69,383.62 L174.60,380.01Z" fill="#7C7C7C"/>
<path d="M180.91,385.52 L185.09,385.52 L183.00,381.91Z" fill="#7C7C7C"/>
<path d="M189.31,385.12 L193.49,385.12 L191.40,381.51Z" fill="#7C7C7C"/>
<polyline points="31.80,486.30 40.20,486.30 48.60,486.30 57.00,486.30 65.40,486.30 73.80,486.30 82.20,478.00 90.60,467.90 99.00,456.60 107.40,443.50 115.80,430.60 124.20,416.50 132.60,403.30 141.00,389.20 149.40,375.40 157.80,362.30 166.20,358.00 174.60,356.30 183.00,356.10 191.40,356.00" fill="none" stroke="#000000" stroke-width="1.4" stroke-linejoin="round"/>
<rect x="30.37" y="484.88" width="2.85" height="2.85" fill="#000000"/>
<rect x="38.77" y="484.88" width="2.85" height="2.85" fill="#000000"/>
<rect x="47.17" y="484.88" width="2.85" height="2.85" fill="#000000"/>
<rect x="55.58" y="484.88" width="2.85" height="2.85" fill="#000000"/>
<rect x="63.97" y="484.88" width="2.85" height="2.85" fill="#000000"/>
<rect x="72.38" y="484.88" width="2.85" height="2.85" fill="#000000"/>
<rect x="80.78" y="476.57" width="2.85" height="2.85" fill="#000000"/>
<rect x="89.17" y="466.47" width="2.85" height="2.85" fill="#000000"/>
<rect x="97.58" y="455.18" width="2.85" height="2.85" fill="#000000"/>
<rect x="105.98" y="442.07" width="2.85" height="2.85" fill="#000000"/>
<rect x="114.38" y="429.18" width="2.85" height="2.85" fill="#000000"/>
<rect x="122.77" y="415.07" width="2.85" height="2.85" fill="#000000"/>
<rect x="131.17" y="401.88" width="2.85" height="2.85" fill="#000000"/>
<rect x="139.57" y="387.77" width="2.85" height="2.85" fill="#000000"/>
<rect x="147.97" y="373.97" width="2.85" height="2.85" fill="#000000"/>
<rect x="156.38" y="360.88" width="2.85" height="2.85" fill="#000000"/>
<rect x="164.77" y="356.57" width="2.85" height="2.85" fill="#000000"/>
<rect x="173.17" y="354.88" width="2.85" height="2.85" fill="#000000"/>
<rect x="181.57" y="354.68" width="2.85" height="2.85" fill="#000000"/>
<rect x="189.97" y="354.57" width="2.85" height="2.85" fill="#000000"/>
<rect x="31.90" y="497.60" width="161.50" height="6.80" fill="#000"/>
<rect x="73.90" y="497.60" width="83.50" height="6.80" fill="#C200C2"/>
<text x="115.20" y="503.50" font-size="7.2" text-anchor="middle" fill="#fff">365 nm</text>
<line x1="28.20" y1="346.40" x2="28.20" y2="507.50" stroke="#000" stroke-width="1.8"/>
<line x1="27.50" y1="506.80" x2="193.50" y2="506.80" stroke="#000" stroke-width="1.8"/>
<line x1="24.80" y1="506.80" x2="28.20" y2="506.80" stroke="#000" stroke-width="1.5"/>
<text x="22.60" y="511.10" font-size="12" text-anchor="end" stroke="#000" stroke-width="0.15">0</text>
<line x1="24.80" y1="444.60" x2="28.20" y2="444.60" stroke="#000" stroke-width="1.5"/>
<text x="22.60" y="448.90" font-size="12" text-anchor="end" stroke="#000" stroke-width="0.15">3</text>
<line x1="24.80" y1="382.10" x2="28.20" y2="382.10" stroke="#000" stroke-width="1.5"/>
<text x="22.60" y="386.40" font-size="12" text-anchor="end" stroke="#000" stroke-width="0.15">6</text>
<line x1="31.80" y1="506.80" x2="31.80" y2="510.30" stroke="#000" stroke-width="1.5"/>
<text x="31.80" y="522.60" font-size="12" text-anchor="middle" stroke="#000" stroke-width="0.15">-50</text>
<line x1="73.80" y1="506.80" x2="73.80" y2="510.30" stroke="#000" stroke-width="1.5"/>
<text x="73.80" y="522.60" font-size="12" text-anchor="middle" stroke="#000" stroke-width="0.15">0</text>
<line x1="115.80" y1="506.80" x2="115.80" y2="510.30" stroke="#000" stroke-width="1.5"/>
<text x="115.80" y="522.60" font-size="12" text-anchor="middle" stroke="#000" stroke-width="0.15">50</text>
<line x1="157.80" y1="506.80" x2="157.80" y2="510.30" stroke="#000" stroke-width="1.5"/>
<text x="157.80" y="522.60" font-size="12" text-anchor="middle" stroke="#000" stroke-width="0.15">100</text>
<text x="110.60" y="536.80" font-size="12" text-anchor="middle" font-weight="bold">Time (s)</text>
<text x="10.40" y="427.50" font-size="12" text-anchor="middle" font-weight="bold" transform="rotate(-90 10.40 427.50)">Current fold increase</text>
<text x="35.40" y="345.10" font-size="12" stroke="#000" stroke-width="0.15">Illumination intensity (AU)</text>
<line x1="35.40" y1="356.90" x2="45.60" y2="356.90" stroke="#E2E2E2" stroke-width="1.4"/>
<circle cx="40.50" cy="356.90" r="1.9949999999999999" fill="#E2E2E2"/>
<text x="52.80" y="361.20" font-size="12" stroke="#000" stroke-width="0.15">0.21 (8)</text>
<line x1="35.40" y1="371.35" x2="45.60" y2="371.35" stroke="#C6C6C6" stroke-width="1.4"/>
<path d="M37.94,369.64 L43.06,369.64 L40.50,373.72Z" fill="#C6C6C6"/>
<text x="52.80" y="375.65" font-size="12" stroke="#000" stroke-width="0.15">0.41 (6)</text>
<line x1="35.40" y1="385.80" x2="45.60" y2="385.80" stroke="#A7A7A7" stroke-width="1.4"/>
<path d="M38.31,385.80 L40.50,383.61 L42.69,385.80 L40.50,387.98Z" fill="#A7A7A7"/>
<text x="52.80" y="390.10" font-size="12" stroke="#000" stroke-width="0.15">0.62 (8)</text>
<line x1="35.40" y1="400.25" x2="45.60" y2="400.25" stroke="#7C7C7C" stroke-width="1.4"/>
<path d="M38.41,401.77 L42.59,401.77 L40.50,398.16Z" fill="#7C7C7C"/>
<text x="52.80" y="404.55" font-size="12" stroke="#000" stroke-width="0.15">0.81 (8)</text>
<line x1="35.40" y1="414.70" x2="45.60" y2="414.70" stroke="#000000" stroke-width="1.4"/>
<rect x="39.08" y="413.27" width="2.85" height="2.85" fill="#000000"/>
<text x="52.80" y="419.00" font-size="12" stroke="#000" stroke-width="0.15">1.00 (32)</text>
<text x="219.80" y="324.80" font-size="24" font-weight="bold">e</text>
<line x1="251.10" y1="348.00" x2="251.10" y2="506.50" stroke="#000" stroke-width="1.8"/>
<line x1="250.40" y1="505.80" x2="384.30" y2="505.80" stroke="#000" stroke-width="1.8"/>
<line x1="247.60" y1="505.80" x2="251.10" y2="505.80" stroke="#000" stroke-width="1.5"/>
<text x="245.40" y="510.10" font-size="12" text-anchor="end" stroke="#000" stroke-width="0.15">0</text>
<line x1="247.60" y1="444.00" x2="251.10" y2="444.00" stroke="#000" stroke-width="1.5"/>
<text x="245.40" y="448.30" font-size="12" text-anchor="end" stroke="#000" stroke-width="0.15">3</text>
<line x1="247.60" y1="382.20" x2="251.10" y2="382.20" stroke="#000" stroke-width="1.5"/>
<text x="245.40" y="386.50" font-size="12" text-anchor="end" stroke="#000" stroke-width="0.15">6</text>
<line x1="251.10" y1="505.80" x2="251.10" y2="509.30" stroke="#000" stroke-width="1.5"/>
<text x="251.10" y="521.70" font-size="12" text-anchor="middle" stroke="#000" stroke-width="0.15">0.0</text>
<line x1="317.50" y1="505.80" x2="317.50" y2="509.30" stroke="#000" stroke-width="1.5"/>
<text x="317.50" y="521.70" font-size="12" text-anchor="middle" stroke="#000" stroke-width="0.15">0.5</text>
<line x1="383.90" y1="505.80" x2="383.90" y2="509.30" stroke="#000" stroke-width="1.5"/>
<text x="383.90" y="521.70" font-size="12" text-anchor="middle" stroke="#000" stroke-width="0.15">1.0</text>
<line x1="278.80" y1="462.50" x2="278.80" y2="467.50" stroke="#E2E2E2" stroke-width="1.9"/>
<circle cx="278.80" cy="465.00" r="4.1" fill="#E2E2E2"/>
<line x1="305.40" y1="432.80" x2="305.40" y2="446.60" stroke="#C6C6C6" stroke-width="1.9"/>
<circle cx="305.40" cy="440.10" r="4.1" fill="#C6C6C6"/>
<line x1="333.20" y1="399.30" x2="333.20" y2="421.20" stroke="#A7A7A7" stroke-width="1.9"/>
<circle cx="333.20" cy="410.40" r="4.1" fill="#A7A7A7"/>
<line x1="361.20" y1="371.00" x2="361.20" y2="398.70" stroke="#7C7C7C" stroke-width="1.9"/>
<circle cx="361.20" cy="384.70" r="4.1" fill="#7C7C7C"/>
<line x1="384.00" y1="354.90" x2="384.00" y2="371.50" stroke="#000000" stroke-width="1.9"/>
<circle cx="384.00" cy="363.40" r="4.1" fill="#000000"/>
<text x="278.80" y="443.80" font-size="12" text-anchor="middle" stroke="#000" stroke-width="0.35">##</text>
<text x="278.80" y="456.60" font-size="12" text-anchor="middle" stroke="#000" stroke-width="0.15">(8)</text>
<text x="305.40" y="415.70" font-size="12" text-anchor="middle" stroke="#000" stroke-width="0.35">##</text>
<text x="305.40" y="429.20" font-size="12" text-anchor="middle" stroke="#000" stroke-width="0.15">(6)</text>
<text x="333.20" y="382.40" font-size="12" text-anchor="middle" stroke="#000" stroke-width="0.35">###</text>
<text x="333.20" y="395.60" font-size="12" text-anchor="middle" stroke="#000" stroke-width="0.15">(8)</text>
<text x="361.20" y="354.40" font-size="12" text-anchor="middle" stroke="#000" stroke-width="0.35">###</text>
<text x="361.20" y="367.80" font-size="12" text-anchor="middle" stroke="#000" stroke-width="0.15">(8)</text>
<text x="384.00" y="338.70" font-size="12" text-anchor="middle" stroke="#000" stroke-width="0.35">####</text>
<text x="384.00" y="351.80" font-size="12" text-anchor="middle" stroke="#000" stroke-width="0.15">(32)</text>
<text x="317.20" y="536.40" font-size="12" text-anchor="middle" font-weight="bold">Illumination intensity (AU)</text>
<text x="232.00" y="426.70" font-size="12" text-anchor="middle" font-weight="bold" transform="rotate(-90 232.00 426.70)">Current fold increase</text>
<text x="419.90" y="325.00" font-size="24" font-weight="bold">f</text>
<polyline points="431.90,515.91 432.01,515.05 432.12,515.80 432.23,515.86 432.34,516.48 432.45,515.68 432.56,514.22 432.67,514.92 432.78,514.22 432.89,515.03 433.00,514.84 433.11,515.02 433.22,516.97 433.33,514.23 433.44,514.57 433.55,514.54 433.66,516.85 433.77,516.87 433.88,515.91 433.99,515.42 434.10,514.56 434.21,514.90 434.32,514.25 434.43,515.46 434.54,514.40 434.65,514.27 434.76,515.37 434.87,512.78 434.98,513.99 435.09,513.26 435.20,515.18 435.31,515.27 435.42,514.80 435.53,514.51 435.64,513.68 435.75,514.06 435.86,514.76 435.97,515.27 436.08,514.77 436.19,512.86 436.30,515.00 436.41,513.83 436.52,513.60 436.63,515.62 436.74,513.93 436.85,512.55 436.96,516.07 437.07,514.22 437.18,513.95 437.29,514.67 437.40,513.22 437.51,513.79 437.62,515.25 437.73,512.76 437.84,512.89 437.95,512.56 438.06,511.99 438.17,513.11 438.28,513.33 438.39,514.81 438.50,512.72 438.61,514.00 438.72,513.79 438.83,514.63 438.94,514.27 439.05,513.77 439.16,511.78 439.27,515.30 439.38,514.65 439.49,512.79 439.60,511.46 439.71,512.35 439.82,514.97 439.93,515.60 440.04,512.47 440.15,513.61 440.26,513.98 440.37,511.70 440.48,511.53 440.59,512.50 440.70,512.37 440.81,512.13 440.92,510.85 441.03,511.86 441.14,511.93 441.25,511.86 441.36,514.09 441.47,510.99 441.58,511.31 441.69,511.73 441.80,514.37 441.91,512.90 442.02,511.28 442.13,514.09 442.24,512.30 442.35,510.98 442.46,513.44 442.57,510.27 442.68,511.36 442.79,512.08 442.90,511.53 443.01,511.15 443.12,511.68 443.23,510.54 443.34,512.44 443.45,512.14 443.56,510.54 443.67,511.59 443.78,512.53 443.89,510.53 444.00,509.93 444.11,511.95 444.22,512.91 444.33,511.53 444.44,511.50 444.55,511.62 444.66,509.75 444.77,512.31 444.88,509.82 444.99,512.49 445.10,511.93 445.21,510.36 445.32,509.79 445.43,510.03 445.54,510.54 445.65,510.72 445.76,510.66 445.87,510.17 445.98,510.93 446.09,510.40 446.20,510.04 446.31,510.61 446.42,509.75 446.53,509.92 446.64,508.32 446.75,510.09 446.86,510.85 446.97,510.75 447.08,510.32 447.19,509.28 447.30,510.59 447.41,509.77 447.52,508.17 447.63,512.85 447.74,511.26 447.85,509.75 447.96,509.54 448.07,509.67 448.18,510.34 448.29,509.14 448.40,509.49 448.51,510.31 448.62,507.10 448.73,509.29 448.84,510.22 448.95,509.69 449.06,509.78 449.17,509.56 449.28,512.38 449.39,509.93 449.50,508.28 449.61,510.58 449.72,509.35 449.83,508.21 449.94,508.28 450.05,507.55 450.16,510.93 450.27,509.44 450.38,509.39 450.49,508.31 450.60,507.77 450.71,511.77 450.82,507.68 450.93,510.36 451.04,508.03 451.15,510.32 451.26,508.49 451.37,507.35 451.48,508.75 451.59,508.35 451.70,507.65 451.81,508.31 451.92,508.52 452.03,506.73 452.14,507.21 452.25,508.61 452.36,505.31 452.47,509.44 452.58,507.18 452.69,508.41 452.80,507.94 452.91,507.28 453.02,507.75 453.13,507.26 453.24,509.55 453.35,509.48 453.46,507.16 453.57,508.81 453.68,508.84 453.79,509.27 453.90,506.29 454.01,506.81 454.12,505.98 454.23,508.53 454.34,507.48 454.45,508.66 454.56,506.57 454.67,505.64 454.78,508.26 454.89,505.59 455.00,506.16 455.11,507.37 455.22,509.25 455.33,505.58 455.44,507.15 455.55,507.65 455.66,506.53 455.77,506.48 455.88,505.27 455.99,507.93 456.10,505.57 456.21,505.15 456.32,505.15 456.43,506.85 456.54,507.41 456.65,505.47 456.76,506.39 456.87,506.33 456.98,504.89 457.09,506.65 457.20,508.78 457.31,506.69 457.42,508.21 457.53,505.30 457.64,505.79 457.75,506.74 457.86,506.04 457.97,505.08 458.08,505.85 458.19,504.44 458.30,505.90 458.41,504.65 458.52,504.10 458.63,503.91 458.74,506.39 458.85,504.61 458.96,507.65 459.07,506.72 459.18,507.67 459.29,504.19 459.40,506.75 459.50,505.32 459.61,505.48 459.72,505.24 459.83,505.84 459.94,504.84 460.05,502.99 460.16,504.97 460.27,504.35 460.38,503.75 460.49,505.11 460.60,506.31 460.71,505.43 460.82,503.45 460.93,506.64 461.04,505.35 461.15,503.37 461.26,503.58 461.37,504.48 461.48,503.46 461.59,504.19 461.70,505.78 461.81,506.21 461.92,505.03 462.03,503.06 462.14,504.85 462.25,505.22 462.36,505.01 462.47,505.92 462.58,504.10 462.69,505.39 462.80,503.40 462.91,506.80 463.02,503.35 463.13,504.53 463.24,506.15 463.35,502.69 463.46,503.92 463.57,506.40 463.68,504.61 463.79,503.05 463.90,503.97 464.01,502.31 464.12,502.30 464.23,502.35 464.34,502.75 464.45,501.37 464.56,502.21 464.67,502.44 464.78,505.78 464.89,501.74 465.00,501.13 465.11,503.25 465.22,503.43 465.33,500.11 465.44,505.09 465.55,502.01 465.66,499.28 465.77,503.83 465.88,501.56 465.99,499.85 466.10,502.58 466.21,501.58 466.32,501.05 466.43,503.53 466.54,502.34 466.65,501.76 466.76,500.96 466.87,502.12 466.98,502.30 467.09,503.42 467.20,502.44 467.31,500.60 467.42,501.68 467.53,503.01 467.64,502.95 467.75,497.82 467.86,499.98 467.97,500.66 468.08,505.33 468.19,500.58 468.30,500.74 468.41,498.92 468.52,500.72 468.63,501.40 468.74,500.47 468.85,504.09 468.96,499.59 469.07,500.59 469.18,502.08 469.29,498.97 469.40,498.18 469.51,503.00 469.62,501.83 469.73,500.32 469.84,500.43 469.95,501.26 470.06,502.10 470.17,497.27 470.28,498.88 470.39,502.29 470.50,502.48 470.61,497.67 470.72,498.73 470.83,497.36 470.94,498.89 471.05,501.50 471.16,499.65 471.27,503.44 471.38,501.15 471.49,500.00 471.60,499.01 471.71,500.96 471.82,499.94 471.93,498.95 472.04,499.02 472.15,498.54 472.26,499.19 472.37,500.00 472.48,498.12 472.59,499.28 472.70,500.67 472.81,500.29 472.92,499.20 473.03,499.33 473.14,498.84 473.25,499.04 473.36,498.69 473.47,499.16 473.58,501.00 473.69,498.12 473.80,496.99 473.91,497.98 474.02,498.99 474.13,497.85 474.24,500.22 474.35,501.76 474.46,498.35 474.57,500.01 474.68,497.06 474.79,500.17 474.90,502.82 475.01,500.00 475.12,495.37 475.23,498.75 475.34,500.43 475.45,499.32 475.56,497.00 475.67,496.98 475.78,497.50 475.89,495.11 476.00,496.44 476.11,497.69 476.22,496.52 476.33,494.56 476.44,495.73 476.55,495.58 476.66,499.34 476.77,497.60 476.88,495.94 476.99,497.76 477.10,495.21 477.21,496.02 477.32,495.39 477.43,497.40 477.54,492.24 477.65,494.60 477.76,497.24 477.87,496.62 477.98,491.89 478.09,497.33 478.20,494.99 478.31,494.73 478.42,496.51 478.53,498.68 478.64,496.06 478.75,495.68 478.86,494.16 478.97,494.76 479.08,496.15 479.19,494.51 479.30,495.05 479.41,495.64 479.52,495.88 479.63,496.40 479.74,494.55 479.85,497.88 479.96,497.00 480.07,495.71 480.18,498.53 480.29,496.47 480.40,499.51 480.51,496.85 480.62,494.33 480.73,494.27 480.84,495.44 480.95,495.73 481.06,498.03 481.17,491.46 481.28,494.02 481.39,492.78 481.50,496.70 481.61,495.22 481.72,498.48 481.83,493.11 481.94,492.72 482.05,498.46 482.16,494.60 482.27,493.13 482.38,498.01 482.49,498.08 482.60,496.44 482.71,495.46 482.82,497.02 482.93,493.94 483.04,493.41 483.15,492.53 483.26,492.31 483.37,490.54 483.48,491.18 483.59,496.39 483.70,494.60 483.81,495.73 483.92,495.70 484.03,493.49 484.14,493.23 484.25,492.11 484.36,496.56 484.47,495.73 484.58,493.01 484.69,493.33 484.80,493.51 484.91,492.89 485.02,494.36 485.13,491.06 485.24,491.76 485.35,492.67 485.46,493.91 485.57,492.73 485.68,498.39 485.79,494.41 485.90,492.04 486.01,495.46 486.12,491.53 486.23,491.58 486.34,494.99 486.45,492.35 486.56,492.43 486.67,490.58 486.78,490.16 486.89,491.58 487.00,493.40 487.11,491.69 487.22,491.44 487.33,489.50 487.44,490.46 487.55,492.78 487.66,494.20 487.77,491.82 487.88,492.62 487.99,493.44 488.10,491.01 488.21,491.83 488.32,490.34 488.43,489.27 488.54,491.44 488.65,484.78 488.76,491.09 488.87,487.58 488.98,489.88 489.09,487.39 489.20,495.83 489.31,491.80 489.42,489.29 489.53,488.34 489.64,484.00 489.75,488.89 489.86,486.45 489.97,487.64 490.08,487.12 490.19,488.14 490.30,489.73 490.41,487.99 490.52,491.90 490.63,486.16 490.74,491.62 490.85,488.36 490.96,483.55 491.07,489.42 491.18,488.73 491.29,485.74 491.40,488.57 491.51,490.64 491.62,487.84 491.73,486.93 491.84,486.53 491.95,490.29 492.06,483.68 492.17,483.82 492.28,488.03 492.39,487.31 492.50,489.06 492.61,484.16 492.72,489.65 492.83,485.96 492.94,488.93 493.05,489.43 493.16,485.61 493.27,483.89 493.38,487.39 493.49,489.10 493.60,485.04 493.71,487.27 493.82,486.23 493.93,482.88 494.04,483.86 494.15,488.25 494.26,480.56 494.37,486.68 494.48,484.47 494.59,488.31 494.70,486.59 494.81,491.20 494.92,481.39 495.03,482.47 495.14,489.53 495.25,490.26 495.36,490.52 495.47,482.66 495.58,487.15 495.69,485.96 495.80,486.59 495.91,485.98 496.02,488.63 496.13,485.42 496.24,489.48 496.35,485.54 496.46,484.38 496.57,483.85 496.68,485.77 496.79,487.62 496.90,484.50 497.01,486.28 497.12,480.30 497.23,482.52 497.34,485.00 497.45,485.95 497.56,486.55 497.67,487.17 497.78,485.39 497.89,483.42 498.00,482.70 498.11,482.46 498.22,477.88 498.33,486.07 498.44,483.87 498.55,475.55 498.66,489.31 498.77,485.24 498.88,483.10 498.99,483.07 499.10,482.24 499.21,484.10 499.32,482.21 499.43,483.08 499.54,480.83 499.65,488.82 499.76,485.70 499.87,482.94 499.98,486.00 500.09,485.98 500.20,480.79 500.31,484.63 500.42,480.61 500.53,480.19 500.64,481.46 500.75,480.76 500.86,482.58 500.97,486.56 501.08,482.20 501.19,480.62 501.30,483.61 501.41,482.19 501.52,479.46 501.63,484.49 501.74,479.64 501.85,475.70 501.96,483.26 502.07,480.97 502.18,481.84 502.29,476.38 502.40,480.20 502.51,478.26 502.62,483.27 502.73,481.03 502.84,480.94 502.95,486.55 503.06,476.11 503.17,477.77 503.28,486.27 503.39,478.12 503.50,480.88 503.61,478.92 503.72,479.11 503.83,485.14 503.94,480.85 504.05,475.18 504.16,481.90 504.27,483.30 504.38,484.35 504.49,483.82 504.60,478.59 504.71,474.01 504.82,478.13 504.93,478.66 505.04,471.94 505.15,481.07 505.26,481.50 505.37,477.34 505.48,477.14 505.59,482.31 505.70,482.72 505.81,477.63 505.92,477.65 506.03,482.86 506.14,478.95 506.25,480.00 506.36,476.41 506.47,478.29 506.58,478.06 506.69,478.87 506.80,473.82 506.91,472.50 507.02,478.56 507.13,474.15 507.24,479.70 507.35,476.64 507.46,474.10 507.57,471.23 507.68,477.90 507.79,476.67 507.90,475.57 508.01,481.57 508.12,475.97 508.23,478.37 508.34,474.43 508.45,479.80 508.56,482.79 508.67,475.27 508.78,474.33 508.89,477.20 509.00,471.74 509.11,475.94 509.22,477.06 509.33,472.89 509.44,480.44 509.55,476.98 509.66,474.38 509.77,470.97 509.88,474.67 509.99,472.76 510.10,476.31 510.21,472.53 510.32,467.18 510.43,476.08 510.54,464.18 510.65,475.69 510.76,473.00 510.87,472.27 510.98,468.83 511.09,477.54 511.20,480.82 511.31,470.07 511.42,469.19 511.53,469.74 511.64,461.66 511.75,471.15 511.86,470.82 511.97,468.00 512.08,470.11 512.19,464.78 512.30,476.33 512.41,472.74 512.52,482.43 512.63,467.68 512.74,472.36 512.85,466.96 512.96,461.79 513.07,470.50 513.18,471.40 513.29,472.29 513.40,473.57 513.51,472.60 513.62,467.21 513.73,469.59 513.84,469.34 513.95,470.22 514.06,465.53 514.17,467.17 514.28,469.72 514.39,466.19 514.49,469.52 514.60,473.65 514.71,462.43 514.82,466.52 514.93,472.48 515.04,463.63 515.15,466.65 515.26,474.75 515.37,460.93 515.48,466.32 515.59,463.77 515.70,466.66 515.81,468.05 515.92,474.04 516.03,462.89 516.14,466.89 516.25,468.16 516.36,465.23 516.47,466.31 516.58,463.53 516.69,468.06 516.80,466.45 516.91,475.72 517.02,467.93 517.13,462.88 517.24,459.78 517.35,467.31 517.46,466.09 517.57,458.21 517.68,466.72 517.79,461.74 517.90,457.27 518.01,464.61 518.12,459.00 518.23,467.76 518.34,463.38 518.45,464.55 518.56,463.50 518.67,458.62 518.78,452.57 518.89,466.70 519.00,466.14 519.11,460.94 519.22,468.12 519.33,460.63 519.44,460.12 519.55,464.01 519.66,460.00 519.77,469.80 519.88,458.59 519.99,469.52 520.10,465.30 520.21,464.48 520.32,463.58 520.43,457.31 520.54,460.93 520.65,463.13 520.76,458.37 520.87,453.11 520.98,460.70 521.09,458.77 521.20,454.29 521.31,458.95 521.42,466.53 521.53,447.55 521.64,448.78 521.75,469.64 521.86,459.73 521.97,457.28 522.08,454.35 522.19,455.69 522.30,460.31 522.41,464.15 522.52,458.10 522.63,453.19 522.74,463.92 522.85,463.47 522.96,458.16 523.07,467.90 523.18,459.08 523.29,459.85 523.40,455.08 523.51,460.94 523.62,461.75 523.73,459.05 523.84,457.09 523.95,460.18 524.06,456.46 524.17,452.40 524.28,449.93 524.39,447.00 524.50,460.11 524.61,458.02 524.72,468.94 524.83,445.27 524.94,459.23 525.05,455.36 525.16,452.20 525.27,462.25 525.38,452.20 525.49,454.72 525.60,464.40 525.71,452.67 525.82,447.57 525.93,464.25 526.04,449.37 526.15,452.52 526.26,450.89 526.37,450.92 526.48,445.96 526.59,454.32 526.70,448.04 526.81,455.07 526.92,448.53 527.03,457.06 527.14,452.93 527.25,442.38 527.36,449.49 527.47,452.77 527.58,458.24 527.69,456.08 527.80,450.31 527.91,445.88 528.02,448.67 528.13,447.95 528.24,451.06 528.35,442.85 528.46,452.78 528.57,453.56 528.68,445.05 528.79,449.70 528.90,451.55 529.01,453.14 529.12,451.13 529.23,445.80 529.34,447.23 529.45,456.32 529.56,446.49 529.67,447.80 529.78,454.64 529.89,443.89 530.00,449.99 530.11,450.15 530.22,443.16 530.33,439.80 530.44,451.75 530.55,444.75 530.66,452.55 530.77,432.94 530.88,449.87 530.99,439.36 531.10,450.47 531.21,441.32 531.32,432.44 531.43,461.66 531.54,448.46 531.65,442.47 531.76,445.98 531.87,449.39 531.98,431.55 532.09,444.35 532.20,455.02 532.31,439.10 532.42,455.19 532.53,436.82 532.64,447.61 532.75,442.83 532.86,435.52 532.97,442.64 533.08,452.14 533.19,453.94 533.30,435.22 533.41,437.88 533.52,447.77 533.63,436.71 533.74,438.88 533.85,437.71 533.96,456.53 534.07,443.55 534.18,435.47 534.29,436.37 534.40,435.20 534.51,457.11 534.62,439.54 534.73,437.20 534.84,423.28 534.95,446.48 535.06,442.13 535.17,439.50 535.28,433.60 535.39,442.37 535.50,431.44 535.61,444.35 535.72,437.02 535.83,442.19 535.94,437.25 536.05,442.80 536.16,448.79 536.27,429.99 536.38,435.16 536.49,440.87 536.60,435.33 536.71,429.53 536.82,443.05 536.93,436.70 537.04,431.85 537.15,431.66 537.26,437.50 537.37,449.87 537.48,425.69 537.59,431.96 537.70,433.95 537.81,435.79 537.92,431.60 538.03,436.33 538.14,440.44 538.25,438.11 538.36,436.81 538.47,436.67 538.58,440.45 538.69,426.92 538.80,441.09 538.91,426.18 539.02,438.41 539.13,427.92 539.24,419.96 539.35,428.49 539.46,435.28 539.57,429.12 539.68,428.09 539.79,442.18 539.90,433.33 540.01,427.16 540.12,431.76 540.23,427.26 540.34,421.92 540.45,421.38 540.56,420.01 540.67,422.20 540.78,428.79 540.89,426.41 541.00,428.13 541.11,428.21 541.22,426.89 541.33,438.90 541.44,427.58 541.55,424.85 541.66,432.20 541.77,424.31 541.88,419.69 541.99,424.86 542.10,406.35 542.21,444.12 542.32,424.25 542.43,437.21 542.54,413.86 542.65,399.69 542.76,442.00 542.87,419.89 542.98,416.31 543.09,422.84 543.20,415.36 543.31,438.55 543.42,412.15 543.53,415.87 543.64,418.51 543.75,423.39 543.86,412.60 543.97,421.90 544.08,415.49 544.19,421.50 544.30,436.24 544.41,416.72 544.52,414.36 544.63,409.21 544.74,423.17 544.85,415.45 544.96,409.39 545.07,413.23 545.18,403.16 545.29,396.13 545.40,421.68 545.51,430.46 545.62,405.20 545.73,398.79 545.84,403.92 545.95,404.56 546.06,417.25 546.17,417.82 546.28,402.84 546.39,419.03 546.50,427.04 546.61,419.23 546.72,386.59 546.83,391.49 546.94,415.45 547.05,415.54 547.16,406.23 547.27,415.13 547.38,395.40 547.49,408.18 547.60,417.42 547.71,394.34 547.82,412.04 547.93,404.03 548.04,405.88 548.15,408.32 548.26,401.67 548.37,411.08 548.48,421.88 548.59,425.04 548.70,415.40 548.81,409.95 548.92,402.21 549.03,400.96 549.14,395.48 549.25,399.37 549.36,408.10 549.47,406.80 549.58,420.69 549.69,400.41 549.80,393.24 549.91,392.29 550.02,398.52 550.13,398.60 550.24,386.58 550.35,395.69 550.46,387.64 550.57,388.78 550.68,392.18 550.79,380.11 550.90,399.59 551.01,396.85 551.12,401.24 551.23,400.72 551.34,374.92 551.45,372.23 551.56,390.61 551.67,384.23 551.78,377.14 551.89,380.71 552.00,375.86 552.11,402.67 552.22,395.37 552.33,382.82 552.44,371.41 552.55,385.83 552.66,396.21 552.77,390.13 552.88,393.18 552.99,395.01 553.10,367.77 553.21,391.56 553.32,383.76 553.43,358.72 553.54,369.48 553.65,378.82 553.76,389.37 553.87,377.07 553.98,362.49 554.09,373.69" fill="none" stroke="#C200C2" stroke-width="0.75" stroke-linejoin="round"/>
<polyline points="431.90,509.52 432.21,509.90 432.51,509.70 432.82,509.92 433.12,509.65 433.43,509.29 433.73,510.23 434.04,509.70 434.34,509.54 434.65,509.79 434.95,509.66 435.26,509.22 435.57,508.74 435.87,509.19 436.18,509.26 436.48,509.89 436.79,508.60 437.09,509.22 437.40,509.21 437.70,509.56 438.01,509.14 438.32,509.46 438.62,509.00 438.93,508.82 439.23,508.93 439.54,508.80 439.84,509.16 440.15,508.30 440.45,509.01 440.76,509.38 441.06,508.75 441.37,508.92 441.68,508.96 441.98,508.68 442.29,508.41 442.59,508.89 442.90,508.48 443.20,507.88 443.51,508.10 443.81,508.35 444.12,508.21 444.43,508.26 444.73,508.19 445.04,507.87 445.34,508.12 445.65,508.90 445.95,508.01 446.26,508.28 446.56,507.68 446.87,508.09 447.18,507.78 447.48,507.01 447.79,508.12 448.09,508.10 448.40,508.16 448.70,508.47 449.01,508.24 449.31,507.40 449.62,507.71 449.92,508.11 450.23,507.93 450.54,507.14 450.84,507.59 451.15,507.40 451.45,507.11 451.76,506.70 452.06,506.45 452.37,506.73 452.67,507.00 452.98,506.95 453.29,506.33 453.59,506.42 453.90,507.00 454.20,506.68 454.51,506.70 454.81,506.74 455.12,506.89 455.42,507.14 455.73,506.82 456.03,507.14 456.34,506.10 456.65,506.31 456.95,506.89 457.26,505.91 457.56,506.05 457.87,507.01 458.17,505.63 458.48,505.95 458.78,505.46 459.09,506.60 459.39,505.91 459.70,505.90 460.01,505.93 460.31,505.89 460.62,505.52 460.92,506.38 461.23,506.24 461.53,506.24 461.84,505.89 462.14,505.86 462.45,505.46 462.76,505.44 463.06,505.48 463.37,505.68 463.67,505.54 463.98,505.00 464.28,505.01 464.59,505.20 464.89,505.30 465.20,504.58 465.50,505.29 465.81,504.80 466.12,504.57 466.42,505.02 466.73,504.58 467.03,505.23 467.34,504.41 467.64,504.65 467.95,505.24 468.25,504.38 468.56,504.89 468.87,504.06 469.17,504.71 469.48,504.48 469.78,504.27 470.09,504.44 470.39,504.17 470.70,504.41 471.00,503.92 471.31,504.11 471.62,503.99 471.92,505.00 472.23,503.54 472.53,503.90 472.84,504.50 473.14,503.77 473.45,503.59 473.75,503.32 474.06,504.04 474.36,503.05 474.67,503.61 474.98,502.64 475.28,503.50 475.59,503.16 475.89,503.48 476.20,503.70 476.50,502.85 476.81,502.87 477.11,502.59 477.42,502.79 477.73,503.25 478.03,503.59 478.34,503.17 478.64,503.13 478.95,503.13 479.25,502.58 479.56,502.62 479.86,502.78 480.17,502.57 480.47,502.64 480.78,502.46 481.09,502.21 481.39,502.09 481.70,502.63 482.00,502.87 482.31,501.77 482.61,502.19 482.92,501.78 483.22,502.71 483.53,502.19 483.83,502.01 484.14,502.49 484.45,502.11 484.75,501.61 485.06,501.43 485.36,501.20 485.67,502.03 485.97,502.17 486.28,501.43 486.58,501.23 486.89,501.44 487.20,501.93 487.50,501.13 487.81,501.08 488.11,501.11 488.42,501.43 488.72,501.10 489.03,500.87 489.33,501.31 489.64,501.71 489.94,500.89 490.25,500.78 490.56,500.90 490.86,500.53 491.17,501.01 491.47,500.78 491.78,500.81 492.08,500.44 492.39,500.03 492.69,500.64 493.00,499.76 493.31,499.90 493.61,500.11 493.92,500.13 494.22,499.66 494.53,500.30 494.83,500.23 495.14,500.52 495.44,499.92 495.75,499.56 496.06,499.79 496.36,499.78 496.67,499.95 496.97,499.77 497.28,500.29 497.58,499.36 497.89,499.83 498.19,500.02 498.50,499.85 498.80,499.82 499.11,499.17 499.42,499.05 499.72,499.86 500.03,498.99 500.33,498.95 500.64,499.43 500.94,499.70 501.25,499.39 501.55,499.29 501.86,498.89 502.17,499.09 502.47,499.64 502.78,498.78 503.08,499.36 503.39,498.44 503.69,499.14 504.00,498.91 504.30,498.91 504.61,498.75 504.91,498.04 505.22,498.15 505.53,498.19 505.83,498.24 506.14,498.86 506.44,498.44 506.75,498.40 507.05,498.50 507.36,497.92 507.66,498.31 507.97,498.25 508.27,498.32 508.58,498.63 508.89,497.63 509.19,497.32 509.50,497.68 509.80,498.04 510.11,498.61 510.41,497.53 510.72,497.10 511.02,497.38 511.33,497.11 511.64,496.86 511.94,496.93 512.25,497.44 512.55,496.86 512.86,496.90 513.16,497.68 513.47,497.23 513.77,497.54 514.08,497.02 514.38,496.72 514.69,497.26 515.00,497.56 515.30,496.31 515.61,496.59 515.91,496.15 516.22,497.10 516.52,496.19 516.83,495.78 517.13,495.75 517.44,496.49 517.75,496.27 518.05,496.37 518.36,495.91 518.66,495.84 518.97,496.13 519.27,496.60 519.58,495.80 519.88,496.18 520.19,495.73 520.50,495.81 520.80,495.28 521.11,495.40 521.41,495.92 521.72,495.58 522.02,495.02 522.33,495.79 522.63,495.40 522.94,495.07 523.24,495.00 523.55,495.21 523.86,495.82 524.16,495.75 524.47,495.16 524.77,495.06 525.08,494.23 525.38,495.40 525.69,494.64 525.99,494.72 526.30,495.54 526.61,495.18 526.91,494.78 527.22,494.96 527.52,494.79 527.83,494.52 528.13,494.92 528.44,494.42 528.74,494.76 529.05,494.68 529.35,494.24 529.66,494.58 529.97,494.23 530.27,493.71 530.58,494.22 530.88,494.23 531.19,493.86 531.49,494.20 531.80,493.64 532.10,494.43 532.41,493.70 532.72,494.05 533.02,494.10 533.33,493.14 533.63,494.02 533.94,493.04 534.24,493.38 534.55,493.04 534.85,493.86 535.16,493.03 535.46,492.89 535.77,493.40 536.08,493.36 536.38,492.38 536.69,493.14 536.99,493.31 537.30,493.33 537.60,492.90 537.91,492.89 538.21,492.89 538.52,492.29 538.83,492.97 539.13,492.63 539.44,492.23 539.74,493.06 540.05,492.28 540.35,491.94 540.66,493.03 540.96,492.89 541.27,492.81 541.57,493.05 541.88,492.18 542.19,492.95 542.49,492.06 542.80,491.67 543.10,492.72 543.41,492.20 543.71,492.72 544.02,491.71 544.32,492.20 544.63,491.98 544.93,491.81 545.24,491.59 545.55,491.85 545.85,491.67 546.16,491.82 546.46,491.54 546.77,491.95 547.07,491.45 547.38,492.12 547.68,491.55 547.99,490.64 548.30,491.24 548.60,491.67 548.91,491.08 549.21,491.47 549.52,491.66 549.82,491.28 550.13,490.70 550.43,490.78 550.74,490.90 551.04,491.14 551.35,491.15 551.66,490.23 551.96,490.57 552.27,490.95 552.57,491.31 552.88,491.00 553.18,489.57 553.49,490.82 553.79,490.38 554.10,490.23" fill="none" stroke="#000" stroke-width="1.3" stroke-linejoin="round"/>
<line x1="493.00" y1="353.50" x2="493.00" y2="506.80" stroke="#000" stroke-width="1.8"/>
<line x1="429.20" y1="506.10" x2="556.30" y2="506.10" stroke="#000" stroke-width="1.8"/>
<line x1="489.40" y1="446.50" x2="493.00" y2="446.50" stroke="#000" stroke-width="1.5"/>
<text x="487.00" y="450.80" font-size="12" text-anchor="end" stroke="#000" stroke-width="0.15">100</text>
<line x1="489.40" y1="386.90" x2="493.00" y2="386.90" stroke="#000" stroke-width="1.5"/>
<text x="487.00" y="391.20" font-size="12" text-anchor="end" stroke="#000" stroke-width="0.15">200</text>
<line x1="431.90" y1="506.10" x2="431.90" y2="509.60" stroke="#000" stroke-width="1.5"/>
<text x="431.90" y="522.60" font-size="12" text-anchor="middle" stroke="#000" stroke-width="0.15">-100</text>
<line x1="493.00" y1="506.10" x2="493.00" y2="509.60" stroke="#000" stroke-width="1.5"/>
<text x="493.00" y="522.60" font-size="12" text-anchor="middle" stroke="#000" stroke-width="0.15">0</text>
<line x1="554.10" y1="506.10" x2="554.10" y2="509.60" stroke="#000" stroke-width="1.5"/>
<text x="554.10" y="522.60" font-size="12" text-anchor="middle" stroke="#000" stroke-width="0.15">100</text>
<text x="493.50" y="537.00" font-size="12" text-anchor="middle" font-weight="bold">V(mV)</text>
<text x="461.3" y="419.4" font-size="12" font-weight="bold" text-anchor="middle" transform="rotate(-90 461.3 419.4)">I<tspan font-size="11.5" dy="1.8">inside-out</tspan><tspan dy="-1.8"> (pA)</tspan></text>
<line x1="438.70" y1="329.80" x2="456.40" y2="329.80" stroke="#000" stroke-width="1.7"/>
<line x1="438.70" y1="345.60" x2="456.40" y2="345.60" stroke="#C200C2" stroke-width="1.7"/>
<text x="464.40" y="334.20" font-size="12" stroke="#000" stroke-width="0.15">pre-illumination</text>
<text x="464.40" y="350.30" font-size="12" stroke="#000" stroke-width="0.15">30 s 365 nm</text>
<text x="566.60" y="324.40" font-size="24" font-weight="bold">g</text>
<line x1="611.30" y1="333.90" x2="611.30" y2="506.70" stroke="#000" stroke-width="1.8"/>
<line x1="608.00" y1="506.00" x2="681.80" y2="506.00" stroke="#000" stroke-width="1.8"/>
<line x1="611.30" y1="314.80" x2="611.30" y2="329.20" stroke="#000" stroke-width="1.4"/>
<line x1="607.60" y1="315.40" x2="611.30" y2="315.40" stroke="#000" stroke-width="1.4"/>
<text x="604.60" y="319.70" font-size="12" text-anchor="end" stroke="#000" stroke-width="0.15">35</text>
<line x1="607.60" y1="328.60" x2="611.30" y2="328.60" stroke="#000" stroke-width="1.4"/>
<text x="604.60" y="332.90" font-size="12" text-anchor="end" stroke="#000" stroke-width="0.15">30</text>
<line x1="607.60" y1="506.00" x2="611.30" y2="506.00" stroke="#000" stroke-width="1.5"/>
<text x="604.60" y="510.30" font-size="12" text-anchor="end" stroke="#000" stroke-width="0.15">0</text>
<line x1="607.60" y1="431.80" x2="611.30" y2="431.80" stroke="#000" stroke-width="1.5"/>
<text x="604.60" y="436.10" font-size="12" text-anchor="end" stroke="#000" stroke-width="0.15">7</text>
<line x1="607.60" y1="357.60" x2="611.30" y2="357.60" stroke="#000" stroke-width="1.5"/>
<text x="604.60" y="361.90" font-size="12" text-anchor="end" stroke="#000" stroke-width="0.15">14</text>
<rect x="620.30" y="493.10" width="20.50" height="12.90" fill="#000"/>
<rect x="661.10" y="433.70" width="3.30" height="15.00" fill="#C200C2"/>
<rect x="652.50" y="447.70" width="20.40" height="58.30" fill="#C200C2"/>
<circle cx="630.60" cy="477.30" r="1.8" fill="#fff" stroke="#000" stroke-width="0.75"/>
<circle cx="629.80" cy="489.80" r="1.8" fill="#fff" stroke="#000" stroke-width="0.75"/>
<circle cx="628.90" cy="493.70" r="1.8" fill="#fff" stroke="#000" stroke-width="0.75"/>
<circle cx="631.30" cy="494.20" r="1.8" fill="#fff" stroke="#000" stroke-width="0.75"/>
<circle cx="627.80" cy="495.60" r="1.8" fill="#fff" stroke="#000" stroke-width="0.75"/>
<circle cx="632.70" cy="495.80" r="1.8" fill="#fff" stroke="#000" stroke-width="0.75"/>
<circle cx="629.50" cy="497.20" r="1.8" fill="#fff" stroke="#000" stroke-width="0.75"/>
<circle cx="630.20" cy="496.00" r="1.8" fill="#fff" stroke="#000" stroke-width="0.75"/>
<circle cx="631.00" cy="492.00" r="1.8" fill="#fff" stroke="#000" stroke-width="0.75"/>
<circle cx="629.00" cy="494.80" r="1.8" fill="#fff" stroke="#000" stroke-width="0.75"/>
<circle cx="662.70" cy="319.20" r="1.8" fill="none" stroke="#000" stroke-width="0.75"/>
<circle cx="660.80" cy="338.10" r="1.8" fill="none" stroke="#000" stroke-width="0.75"/>
<circle cx="665.30" cy="369.60" r="1.8" fill="none" stroke="#000" stroke-width="0.75"/>
<circle cx="660.80" cy="411.60" r="1.8" fill="none" stroke="#000" stroke-width="0.75"/>
<circle cx="662.70" cy="425.50" r="1.8" fill="none" stroke="#000" stroke-width="0.75"/>
<circle cx="661.70" cy="444.50" r="1.8" fill="none" stroke="#000" stroke-width="0.75"/>
<circle cx="662.00" cy="449.70" r="1.8" fill="none" stroke="#000" stroke-width="0.75"/>
<circle cx="660.30" cy="455.00" r="1.8" fill="none" stroke="#000" stroke-width="0.75"/>
<circle cx="663.30" cy="456.90" r="1.8" fill="none" stroke="#000" stroke-width="0.75"/>
<circle cx="662.00" cy="458.20" r="1.8" fill="none" stroke="#000" stroke-width="0.75"/>
<circle cx="660.30" cy="462.20" r="1.8" fill="none" stroke="#000" stroke-width="0.75"/>
<circle cx="665.30" cy="465.70" r="1.8" fill="none" stroke="#000" stroke-width="0.75"/>
<circle cx="665.30" cy="472.00" r="1.8" fill="none" stroke="#000" stroke-width="0.75"/>
<circle cx="660.70" cy="477.30" r="1.8" fill="none" stroke="#000" stroke-width="0.75"/>
<circle cx="666.00" cy="478.60" r="1.8" fill="none" stroke="#000" stroke-width="0.75"/>
<circle cx="661.40" cy="483.20" r="1.8" fill="none" stroke="#000" stroke-width="0.75"/>
<circle cx="666.00" cy="485.20" r="1.8" fill="none" stroke="#000" stroke-width="0.75"/>
<circle cx="660.00" cy="487.80" r="1.8" fill="none" stroke="#000" stroke-width="0.75"/>
<circle cx="662.00" cy="487.80" r="1.8" fill="none" stroke="#000" stroke-width="0.75"/>
<circle cx="664.00" cy="489.80" r="1.8" fill="none" stroke="#000" stroke-width="0.75"/>
<circle cx="666.60" cy="489.80" r="1.8" fill="none" stroke="#000" stroke-width="0.75"/>
<circle cx="660.00" cy="491.10" r="1.8" fill="none" stroke="#000" stroke-width="0.75"/>
<circle cx="662.00" cy="491.80" r="1.8" fill="none" stroke="#000" stroke-width="0.75"/>
<circle cx="666.00" cy="491.80" r="1.8" fill="none" stroke="#000" stroke-width="0.75"/>
<circle cx="663.30" cy="492.80" r="1.8" fill="none" stroke="#000" stroke-width="0.75"/>
<circle cx="666.60" cy="494.40" r="1.8" fill="none" stroke="#000" stroke-width="0.75"/>
<circle cx="665.30" cy="500.30" r="1.8" fill="none" stroke="#000" stroke-width="0.75"/>
<text x="630.60" y="471.10" font-size="12" text-anchor="middle" stroke="#000" stroke-width="0.15">(10)</text>
<text x="662.70" y="313.00" font-size="12" text-anchor="middle" stroke="#000" stroke-width="0.15">(25)</text>
<text x="662.50" y="302.90" font-size="12" text-anchor="middle" stroke="#000" stroke-width="0.12">***</text>
<line x1="630.40" y1="506.00" x2="630.40" y2="509.50" stroke="#000" stroke-width="1.5"/>
<text x="636.80" y="519.00" font-size="12" text-anchor="end" transform="rotate(-45 636.80 519.00)" stroke="#000" stroke-width="0.15">Dark</text>
<line x1="662.70" y1="506.00" x2="662.70" y2="509.50" stroke="#000" stroke-width="1.5"/>
<text x="669.10" y="519.00" font-size="12" text-anchor="end" transform="rotate(-45 669.10 519.00)" stroke="#000" stroke-width="0.15">365 nm</text>
<text x="590.60" y="422.70" font-size="12" text-anchor="middle" font-weight="bold" transform="rotate(-90 590.60 422.70)">Inside-out current fold increase</text>
<text x="-0.70" y="598.80" font-size="24" font-weight="bold">h</text>
<line x1="49.20" y1="599.50" x2="132.70" y2="599.50" stroke="#3a3a3a" stroke-width="1.1"/>
<line x1="59.60" y1="620.19" x2="132.70" y2="620.19" stroke="#3a3a3a" stroke-width="1.1"/>
<line x1="80.40" y1="640.88" x2="132.70" y2="640.88" stroke="#3a3a3a" stroke-width="1.1"/>
<line x1="80.40" y1="661.57" x2="132.70" y2="661.57" stroke="#3a3a3a" stroke-width="1.1"/>
<line x1="90.50" y1="682.26" x2="132.70" y2="682.26" stroke="#3a3a3a" stroke-width="1.1"/>
<line x1="111.30" y1="702.95" x2="132.70" y2="702.95" stroke="#3a3a3a" stroke-width="1.1"/>
<line x1="121.90" y1="723.64" x2="132.70" y2="723.64" stroke="#3a3a3a" stroke-width="1.1"/>
<line x1="121.90" y1="744.33" x2="132.70" y2="744.33" stroke="#3a3a3a" stroke-width="1.1"/>
<line x1="101.20" y1="765.02" x2="132.70" y2="765.02" stroke="#3a3a3a" stroke-width="1.1"/>
<line x1="111.30" y1="785.71" x2="132.70" y2="785.71" stroke="#3a3a3a" stroke-width="1.1"/>
<line x1="121.90" y1="806.40" x2="132.70" y2="806.40" stroke="#3a3a3a" stroke-width="1.1"/>
<line x1="121.90" y1="827.09" x2="132.70" y2="827.09" stroke="#3a3a3a" stroke-width="1.1"/>
<line x1="49.20" y1="599.50" x2="49.20" y2="662.40" stroke="#3a3a3a" stroke-width="1.1"/>
<line x1="49.20" y1="662.40" x2="59.60" y2="662.40" stroke="#3a3a3a" stroke-width="1.1"/>
<line x1="59.60" y1="620.19" x2="59.60" y2="703.90" stroke="#3a3a3a" stroke-width="1.1"/>
<line x1="59.60" y1="703.90" x2="69.60" y2="703.90" stroke="#3a3a3a" stroke-width="1.1"/>
<line x1="69.60" y1="650.90" x2="69.60" y2="756.80" stroke="#3a3a3a" stroke-width="1.1"/>
<line x1="69.60" y1="650.90" x2="80.40" y2="650.90" stroke="#3a3a3a" stroke-width="1.1"/>
<line x1="69.60" y1="756.80" x2="80.40" y2="756.80" stroke="#3a3a3a" stroke-width="1.1"/>
<line x1="80.40" y1="640.88" x2="80.40" y2="661.57" stroke="#3a3a3a" stroke-width="1.1"/>
<line x1="80.40" y1="713.30" x2="80.40" y2="801.00" stroke="#3a3a3a" stroke-width="1.1"/>
<line x1="80.40" y1="713.30" x2="90.50" y2="713.30" stroke="#3a3a3a" stroke-width="1.1"/>
<line x1="80.40" y1="801.00" x2="111.30" y2="801.00" stroke="#3a3a3a" stroke-width="1.1"/>
<line x1="90.50" y1="682.26" x2="90.50" y2="744.50" stroke="#3a3a3a" stroke-width="1.1"/>
<line x1="90.50" y1="744.50" x2="101.20" y2="744.50" stroke="#3a3a3a" stroke-width="1.1"/>
<line x1="101.20" y1="718.80" x2="101.20" y2="765.02" stroke="#3a3a3a" stroke-width="1.1"/>
<line x1="101.20" y1="718.80" x2="111.30" y2="718.80" stroke="#3a3a3a" stroke-width="1.1"/>
<line x1="111.30" y1="702.95" x2="111.30" y2="733.70" stroke="#3a3a3a" stroke-width="1.1"/>
<line x1="111.30" y1="733.70" x2="121.90" y2="733.70" stroke="#3a3a3a" stroke-width="1.1"/>
<line x1="121.90" y1="723.64" x2="121.90" y2="744.33" stroke="#3a3a3a" stroke-width="1.1"/>
<line x1="111.30" y1="785.71" x2="111.30" y2="816.80" stroke="#3a3a3a" stroke-width="1.1"/>
<line x1="111.30" y1="816.80" x2="121.90" y2="816.80" stroke="#3a3a3a" stroke-width="1.1"/>
<line x1="121.90" y1="806.40" x2="121.90" y2="827.09" stroke="#3a3a3a" stroke-width="1.1"/>
<text x="141.30" y="602.50" font-size="12" stroke="#000" stroke-width="0.15">Monotremata</text>
<text x="141.30" y="623.36" font-size="12" stroke="#000" stroke-width="0.15">Marsupiala</text>
<text x="141.30" y="644.22" font-size="12" stroke="#000" stroke-width="0.15">Xenarthra</text>
<text x="141.30" y="665.08" font-size="12" stroke="#000" stroke-width="0.15">Afrotheria</text>
<text x="141.30" y="685.94" font-size="12" stroke="#000" stroke-width="0.15">Eulipotyphla</text>
<text x="141.30" y="706.80" font-size="12" stroke="#000" stroke-width="0.15">Carnivora</text>
<text x="141.30" y="727.66" font-size="12" stroke="#000" stroke-width="0.15">Perissodactyla</text>
<text x="141.30" y="748.52" font-size="12" stroke="#000" stroke-width="0.15">Artiodactyla</text>
<text x="141.30" y="769.38" font-size="12" stroke="#000" stroke-width="0.15">Chiroptera</text>
<text x="141.30" y="790.24" font-size="12" stroke="#000" stroke-width="0.15">Primates</text>
<text x="141.30" y="811.10" font-size="12" stroke="#000" stroke-width="0.15">Lagomorpha</text>
<text x="141.30" y="831.96" font-size="12" stroke="#000" stroke-width="0.15">Rodentia</text>
<rect x="213.40" y="609.00" width="69.00" height="20.20" fill="#F2A6CB" stroke="#DE6FA8" stroke-width="1.0" rx="1.5"/>
<text x="247.80" y="617.30" font-size="9.8" text-anchor="middle" font-style="italic" stroke="#000" stroke-width="0.15">Phascolarctos</text>
<text x="247.80" y="626.50" font-size="9.8" text-anchor="middle" font-style="italic" stroke="#000" stroke-width="0.15">cinereus</text>
<rect x="213.40" y="697.90" width="69.00" height="9.80" fill="#7F90A3" stroke="#3E4E62" stroke-width="1.0" rx="1.5"/>
<text x="247.80" y="706.10" font-size="9.8" text-anchor="middle" font-style="italic" stroke="#000" stroke-width="0.15">Felis catus</text>
<rect x="213.40" y="739.60" width="69.00" height="9.70" fill="#E9E7E3" stroke="#CFCAC2" stroke-width="1.0" rx="1.5"/>
<text x="247.80" y="747.80" font-size="9.8" text-anchor="middle" font-style="italic" stroke="#000" stroke-width="0.15">Bos taurus</text>
<rect x="213.40" y="755.50" width="69.00" height="19.80" fill="#FDAB78" stroke="#F5843F" stroke-width="1.0" rx="1.5"/>
<text x="247.80" y="763.80" font-size="9.8" text-anchor="middle" font-style="italic" stroke="#000" stroke-width="0.15">Artibeus</text>
<text x="247.80" y="773.00" font-size="9.8" text-anchor="middle" font-style="italic" stroke="#000" stroke-width="0.15">jamaicensis</text>
<rect x="213.40" y="781.20" width="69.00" height="10.00" fill="#FFE382" stroke="#F6C93E" stroke-width="1.0" rx="1.5"/>
<text x="247.80" y="789.40" font-size="9.8" text-anchor="middle" font-style="italic" stroke="#000" stroke-width="0.15">Homo sapiens</text>
<rect x="213.40" y="797.10" width="69.00" height="20.00" fill="#C7A98B" stroke="#9A7552" stroke-width="1.0" rx="1.5"/>
<text x="247.80" y="805.40" font-size="9.8" text-anchor="middle" font-style="italic" stroke="#000" stroke-width="0.15">Oryctolagus</text>
<text x="247.80" y="814.60" font-size="9.8" text-anchor="middle" font-style="italic" stroke="#000" stroke-width="0.15">cuniculus</text>
<rect x="213.40" y="823.30" width="69.00" height="9.50" fill="#B6D3F0" stroke="#86B3E2" stroke-width="1.0" rx="1.5"/>
<text x="247.80" y="831.50" font-size="9.8" text-anchor="middle" font-style="italic" stroke="#000" stroke-width="0.15">Mus musculus</text>
<rect x="213.40" y="837.40" width="69.00" height="19.70" fill="#D59BCC" stroke="#A84A9E" stroke-width="1.0" rx="1.5"/>
<text x="247.80" y="845.70" font-size="9.8" text-anchor="middle" font-style="italic" stroke="#000" stroke-width="0.15">Rattus</text>
<text x="247.80" y="854.90" font-size="9.8" text-anchor="middle" font-style="italic" stroke="#000" stroke-width="0.15">norvegicus</text>
<text x="365.40" y="598.60" font-size="24" font-weight="bold">i</text>
<line x1="426.00" y1="582.70" x2="426.00" y2="759.00" stroke="#000" stroke-width="1.8"/>
<line x1="425.70" y1="758.30" x2="685.00" y2="758.30" stroke="#000" stroke-width="1.8"/>
<line x1="422.80" y1="758.30" x2="426.40" y2="758.30" stroke="#000" stroke-width="1.5"/>
<text x="420.60" y="762.60" font-size="12" text-anchor="end" stroke="#000" stroke-width="0.15">0</text>
<line x1="422.80" y1="672.90" x2="426.40" y2="672.90" stroke="#000" stroke-width="1.5"/>
<text x="420.60" y="677.20" font-size="12" text-anchor="end" stroke="#000" stroke-width="0.15">7</text>
<line x1="422.80" y1="587.50" x2="426.40" y2="587.50" stroke="#000" stroke-width="1.5"/>
<text x="420.60" y="591.80" font-size="12" text-anchor="end" stroke="#000" stroke-width="0.15">14</text>
<rect x="435.00" y="672.10" width="19.90" height="86.20" fill="#5B9BD5"/>
<line x1="444.95" y1="758.30" x2="444.95" y2="761.80" stroke="#000" stroke-width="1.5"/>
<text x="450.75" y="771.50" font-size="12" text-anchor="end" font-style="italic" transform="rotate(-45 450.75 771.50)" stroke="#000" stroke-width="0.15">Mus musculus</text>
<line x1="476.50" y1="645.20" x2="476.50" y2="661.60" stroke="#9A2C92" stroke-width="1.6"/>
<rect x="466.60" y="660.60" width="19.80" height="97.70" fill="#9A2C92"/>
<line x1="476.50" y1="758.30" x2="476.50" y2="761.80" stroke="#000" stroke-width="1.5"/>
<text x="482.30" y="771.50" font-size="12" text-anchor="end" font-style="italic" transform="rotate(-45 482.30 771.50)" stroke="#000" stroke-width="0.15">Rattus norvegicus</text>
<line x1="508.05" y1="649.90" x2="508.05" y2="664.00" stroke="#E0509B" stroke-width="1.6"/>
<rect x="498.10" y="663.00" width="19.90" height="95.30" fill="#E0509B"/>
<line x1="508.05" y1="758.30" x2="508.05" y2="761.80" stroke="#000" stroke-width="1.5"/>
<text x="513.85" y="771.50" font-size="12" text-anchor="end" font-style="italic" transform="rotate(-45 513.85 771.50)" stroke="#000" stroke-width="0.15">Phascolarctos cinereus</text>
<line x1="539.55" y1="698.00" x2="539.55" y2="704.10" stroke="#FF6A00" stroke-width="1.6"/>
<rect x="529.60" y="703.10" width="19.90" height="55.20" fill="#FF6A00"/>
<line x1="539.55" y1="758.30" x2="539.55" y2="761.80" stroke="#000" stroke-width="1.5"/>
<text x="545.35" y="771.50" font-size="12" text-anchor="end" font-style="italic" transform="rotate(-45 545.35 771.50)" stroke="#000" stroke-width="0.15">Artibeus jamaicensis</text>
<rect x="560.80" y="737.20" width="20.30" height="21.10" fill="#FFC000"/>
<line x1="570.95" y1="758.30" x2="570.95" y2="761.80" stroke="#000" stroke-width="1.5"/>
<text x="576.75" y="771.50" font-size="12" text-anchor="end" font-style="italic" transform="rotate(-45 576.75 771.50)" stroke="#000" stroke-width="0.15">Homo sapiens</text>
<rect x="592.80" y="740.10" width="19.90" height="18.20" fill="#D2CBBE"/>
<line x1="602.75" y1="758.30" x2="602.75" y2="761.80" stroke="#000" stroke-width="1.5"/>
<text x="608.55" y="771.50" font-size="12" text-anchor="end" font-style="italic" transform="rotate(-45 608.55 771.50)" stroke="#000" stroke-width="0.15">Bos taurus</text>
<rect x="624.30" y="740.10" width="20.30" height="18.20" fill="#102C4C"/>
<line x1="634.45" y1="758.30" x2="634.45" y2="761.80" stroke="#000" stroke-width="1.5"/>
<text x="640.25" y="771.50" font-size="12" text-anchor="end" font-style="italic" transform="rotate(-45 640.25 771.50)" stroke="#000" stroke-width="0.15">Felis catus</text>
<rect x="656.00" y="741.70" width="19.70" height="16.60" fill="#A06A30"/>
<line x1="665.85" y1="758.30" x2="665.85" y2="761.80" stroke="#000" stroke-width="1.5"/>
<text x="671.65" y="771.50" font-size="12" text-anchor="end" font-style="italic" transform="rotate(-45 671.65 771.50)" stroke="#000" stroke-width="0.15">Oryctolagus cuniculus</text>
<circle cx="443.90" cy="615.50" r="1.8" fill="none" stroke="#000" stroke-width="0.75"/>
<circle cx="445.50" cy="631.20" r="1.8" fill="none" stroke="#000" stroke-width="0.75"/>
<circle cx="446.70" cy="631.20" r="1.8" fill="none" stroke="#000" stroke-width="0.75"/>
<circle cx="443.90" cy="634.20" r="1.8" fill="none" stroke="#000" stroke-width="0.75"/>
<circle cx="444.80" cy="639.60" r="1.8" fill="none" stroke="#000" stroke-width="0.75"/>
<circle cx="441.60" cy="649.00" r="1.8" fill="none" stroke="#000" stroke-width="0.75"/>
<circle cx="443.20" cy="650.60" r="1.8" fill="none" stroke="#000" stroke-width="0.75"/>
<circle cx="445.50" cy="651.30" r="1.8" fill="none" stroke="#000" stroke-width="0.75"/>
<circle cx="441.60" cy="652.90" r="1.8" fill="none" stroke="#000" stroke-width="0.75"/>
<circle cx="444.80" cy="660.00" r="1.8" fill="none" stroke="#000" stroke-width="0.75"/>
<circle cx="443.20" cy="663.50" r="1.8" fill="none" stroke="#000" stroke-width="0.75"/>
<circle cx="446.70" cy="665.80" r="1.8" fill="none" stroke="#000" stroke-width="0.75"/>
<circle cx="445.50" cy="668.10" r="1.8" fill="none" stroke="#000" stroke-width="0.75"/>
<circle cx="447.90" cy="669.20" r="1.8" fill="none" stroke="#000" stroke-width="0.75"/>
<circle cx="440.90" cy="672.80" r="1.8" fill="none" stroke="#000" stroke-width="0.75"/>
<circle cx="445.50" cy="674.00" r="1.8" fill="none" stroke="#000" stroke-width="0.75"/>
<circle cx="443.20" cy="676.30" r="1.8" fill="none" stroke="#000" stroke-width="0.75"/>
<circle cx="446.70" cy="677.00" r="1.8" fill="none" stroke="#000" stroke-width="0.75"/>
<circle cx="442.00" cy="684.00" r="1.8" fill="none" stroke="#000" stroke-width="0.75"/>
<circle cx="446.70" cy="685.60" r="1.8" fill="none" stroke="#000" stroke-width="0.75"/>
<circle cx="443.20" cy="691.50" r="1.8" fill="none" stroke="#000" stroke-width="0.75"/>
<circle cx="446.30" cy="697.30" r="1.8" fill="none" stroke="#000" stroke-width="0.75"/>
<circle cx="444.00" cy="698.00" r="1.8" fill="none" stroke="#000" stroke-width="0.75"/>
<circle cx="443.20" cy="702.00" r="1.8" fill="none" stroke="#000" stroke-width="0.75"/>
<circle cx="444.80" cy="702.70" r="1.8" fill="none" stroke="#000" stroke-width="0.75"/>
<circle cx="442.70" cy="705.50" r="1.8" fill="none" stroke="#000" stroke-width="0.75"/>
<circle cx="445.50" cy="708.50" r="1.8" fill="none" stroke="#000" stroke-width="0.75"/>
<circle cx="447.90" cy="713.20" r="1.8" fill="none" stroke="#000" stroke-width="0.75"/>
<circle cx="446.70" cy="716.70" r="1.8" fill="none" stroke="#000" stroke-width="0.75"/>
<circle cx="442.00" cy="723.00" r="1.8" fill="none" stroke="#000" stroke-width="0.75"/>
<circle cx="443.20" cy="688.00" r="1.8" fill="none" stroke="#000" stroke-width="0.75"/>
<circle cx="478.70" cy="607.80" r="1.8" fill="none" stroke="#000" stroke-width="0.75"/>
<circle cx="478.70" cy="656.00" r="1.8" fill="none" stroke="#000" stroke-width="0.75"/>
<circle cx="479.40" cy="659.20" r="1.8" fill="none" stroke="#000" stroke-width="0.75"/>
<circle cx="475.20" cy="677.50" r="1.8" fill="none" stroke="#000" stroke-width="0.75"/>
<circle cx="475.90" cy="706.70" r="1.8" fill="none" stroke="#000" stroke-width="0.75"/>
<circle cx="510.30" cy="590.60" r="1.8" fill="none" stroke="#000" stroke-width="0.75"/>
<circle cx="505.10" cy="622.60" r="1.8" fill="none" stroke="#000" stroke-width="0.75"/>
<circle cx="506.30" cy="635.90" r="1.8" fill="none" stroke="#000" stroke-width="0.75"/>
<circle cx="507.50" cy="642.40" r="1.8" fill="none" stroke="#000" stroke-width="0.75"/>
<circle cx="510.30" cy="684.00" r="1.8" fill="none" stroke="#000" stroke-width="0.75"/>
<circle cx="507.90" cy="693.10" r="1.8" fill="none" stroke="#000" stroke-width="0.75"/>
<circle cx="511.00" cy="693.30" r="1.8" fill="none" stroke="#000" stroke-width="0.75"/>
<circle cx="508.60" cy="703.60" r="1.8" fill="none" stroke="#000" stroke-width="0.75"/>
<circle cx="511.00" cy="707.80" r="1.8" fill="none" stroke="#000" stroke-width="0.75"/>
<circle cx="542.00" cy="663.40" r="1.8" fill="none" stroke="#000" stroke-width="0.75"/>
<circle cx="537.40" cy="674.60" r="1.8" fill="none" stroke="#000" stroke-width="0.75"/>
<circle cx="542.50" cy="684.50" r="1.8" fill="none" stroke="#000" stroke-width="0.75"/>
<circle cx="541.30" cy="700.30" r="1.8" fill="none" stroke="#000" stroke-width="0.75"/>
<circle cx="539.00" cy="705.50" r="1.8" fill="none" stroke="#000" stroke-width="0.75"/>
<circle cx="543.00" cy="707.40" r="1.8" fill="none" stroke="#000" stroke-width="0.75"/>
<circle cx="537.80" cy="709.70" r="1.8" fill="none" stroke="#000" stroke-width="0.75"/>
<circle cx="536.70" cy="713.70" r="1.8" fill="none" stroke="#000" stroke-width="0.75"/>
<circle cx="539.70" cy="717.60" r="1.8" fill="none" stroke="#000" stroke-width="0.75"/>
<circle cx="540.20" cy="728.40" r="1.8" fill="none" stroke="#000" stroke-width="0.75"/>
<circle cx="542.00" cy="730.70" r="1.8" fill="none" stroke="#000" stroke-width="0.75"/>
<circle cx="541.00" cy="703.00" r="1.8" fill="none" stroke="#000" stroke-width="0.75"/>
<circle cx="570.70" cy="732.20" r="1.8" fill="none" stroke="#000" stroke-width="0.75"/>
<circle cx="572.10" cy="734.20" r="1.8" fill="none" stroke="#000" stroke-width="0.75"/>
<circle cx="569.70" cy="738.70" r="1.8" fill="none" stroke="#000" stroke-width="0.75"/>
<circle cx="571.30" cy="742.10" r="1.8" fill="none" stroke="#000" stroke-width="0.75"/>
<circle cx="572.70" cy="743.70" r="1.8" fill="none" stroke="#000" stroke-width="0.75"/>
<circle cx="570.50" cy="740.50" r="1.8" fill="none" stroke="#000" stroke-width="0.75"/>
<circle cx="571.80" cy="736.50" r="1.8" fill="none" stroke="#000" stroke-width="0.75"/>
<circle cx="573.00" cy="741.50" r="1.8" fill="none" stroke="#000" stroke-width="0.75"/>
<circle cx="601.50" cy="737.50" r="1.8" fill="none" stroke="#000" stroke-width="0.75"/>
<circle cx="604.50" cy="738.50" r="1.8" fill="none" stroke="#000" stroke-width="0.75"/>
<circle cx="606.00" cy="737.00" r="1.8" fill="none" stroke="#000" stroke-width="0.75"/>
<circle cx="602.00" cy="740.00" r="1.8" fill="none" stroke="#000" stroke-width="0.75"/>
<circle cx="603.50" cy="741.50" r="1.8" fill="none" stroke="#000" stroke-width="0.75"/>
<circle cx="601.00" cy="742.50" r="1.8" fill="none" stroke="#000" stroke-width="0.75"/>
<circle cx="604.00" cy="743.50" r="1.8" fill="none" stroke="#000" stroke-width="0.75"/>
<circle cx="602.50" cy="745.00" r="1.8" fill="none" stroke="#000" stroke-width="0.75"/>
<circle cx="605.00" cy="740.50" r="1.8" fill="none" stroke="#000" stroke-width="0.75"/>
<circle cx="631.80" cy="735.80" r="1.8" fill="#fff" stroke="#000" stroke-width="0.75"/>
<circle cx="634.00" cy="736.50" r="1.8" fill="#fff" stroke="#000" stroke-width="0.75"/>
<circle cx="636.00" cy="737.00" r="1.8" fill="#fff" stroke="#000" stroke-width="0.75"/>
<circle cx="636.70" cy="739.50" r="1.8" fill="#fff" stroke="#000" stroke-width="0.75"/>
<circle cx="635.00" cy="742.00" r="1.8" fill="#fff" stroke="#000" stroke-width="0.75"/>
<circle cx="632.50" cy="744.50" r="1.8" fill="#fff" stroke="#000" stroke-width="0.75"/>
<circle cx="634.50" cy="745.40" r="1.8" fill="#fff" stroke="#000" stroke-width="0.75"/>
<circle cx="633.50" cy="740.00" r="1.8" fill="#fff" stroke="#000" stroke-width="0.75"/>
<circle cx="635.50" cy="744.00" r="1.8" fill="#fff" stroke="#000" stroke-width="0.75"/>
<circle cx="666.00" cy="736.20" r="1.8" fill="none" stroke="#000" stroke-width="0.75"/>
<circle cx="666.50" cy="738.20" r="1.8" fill="none" stroke="#000" stroke-width="0.75"/>
<circle cx="665.50" cy="740.10" r="1.8" fill="none" stroke="#000" stroke-width="0.75"/>
<circle cx="664.50" cy="742.00" r="1.8" fill="none" stroke="#000" stroke-width="0.75"/>
<circle cx="667.30" cy="742.50" r="1.8" fill="none" stroke="#000" stroke-width="0.75"/>
<circle cx="665.00" cy="744.00" r="1.8" fill="none" stroke="#000" stroke-width="0.75"/>
<circle cx="663.30" cy="745.00" r="1.8" fill="none" stroke="#000" stroke-width="0.75"/>
<circle cx="668.00" cy="745.50" r="1.8" fill="none" stroke="#000" stroke-width="0.75"/>
<circle cx="666.00" cy="747.00" r="1.8" fill="none" stroke="#000" stroke-width="0.75"/>
<circle cx="668.30" cy="749.00" r="1.8" fill="none" stroke="#000" stroke-width="0.75"/>
<circle cx="664.50" cy="741.00" r="1.8" fill="none" stroke="#000" stroke-width="0.75"/>
<text x="444.80" y="598.80" font-size="12" text-anchor="middle" stroke="#000" stroke-width="0.35">####</text>
<text x="444.80" y="611.70" font-size="12" text-anchor="middle" stroke="#000" stroke-width="0.15">(31)</text>
<text x="476.40" y="589.50" font-size="12" text-anchor="middle" stroke="#000" stroke-width="0.35">##</text>
<text x="476.40" y="601.90" font-size="12" text-anchor="middle" stroke="#000" stroke-width="0.15">(5)</text>
<text x="507.90" y="572.00" font-size="12" text-anchor="middle" stroke="#000" stroke-width="0.35">###</text>
<text x="507.90" y="584.10" font-size="12" text-anchor="middle" stroke="#000" stroke-width="0.15">(9)</text>
<text x="539.70" y="644.80" font-size="12" text-anchor="middle" stroke="#000" stroke-width="0.35">####</text>
<text x="539.70" y="657.20" font-size="12" text-anchor="middle" stroke="#000" stroke-width="0.15">(12)</text>
<text x="571.10" y="703.90" font-size="12" text-anchor="middle" stroke="#000" stroke-width="0.12">***</text>
<text x="571.10" y="712.80" font-size="12" text-anchor="middle" stroke="#000" stroke-width="0.35">###</text>
<text x="571.10" y="725.60" font-size="12" text-anchor="middle" stroke="#000" stroke-width="0.15">(8)</text>
<text x="602.80" y="709.80" font-size="12" text-anchor="middle" stroke="#000" stroke-width="0.12">****</text>
<text x="602.80" y="719.30" font-size="12" text-anchor="middle" stroke="#000" stroke-width="0.35">####</text>
<text x="602.80" y="731.50" font-size="12" text-anchor="middle" stroke="#000" stroke-width="0.15">(9)</text>
<text x="634.40" y="707.40" font-size="12" text-anchor="middle" stroke="#000" stroke-width="0.12">****</text>
<text x="634.40" y="716.70" font-size="12" text-anchor="middle" stroke="#000" stroke-width="0.35">##</text>
<text x="634.40" y="729.50" font-size="12" text-anchor="middle" stroke="#000" stroke-width="0.15">(9)</text>
<text x="665.90" y="708.20" font-size="12" text-anchor="middle" stroke="#000" stroke-width="0.12">****</text>
<text x="665.90" y="717.70" font-size="12" text-anchor="middle" stroke="#000" stroke-width="0.35">##</text>
<text x="665.90" y="730.50" font-size="12" text-anchor="middle" stroke="#000" stroke-width="0.15">(11)</text>
<text x="555.20" y="874.20" font-size="12" text-anchor="middle" font-weight="bold">TRAAK channel species</text>
<text x="400.50" y="670.80" font-size="12" text-anchor="middle" font-weight="bold" transform="rotate(-90 400.50 670.80)">Current fold increase</text>
</svg>
</body></html>
